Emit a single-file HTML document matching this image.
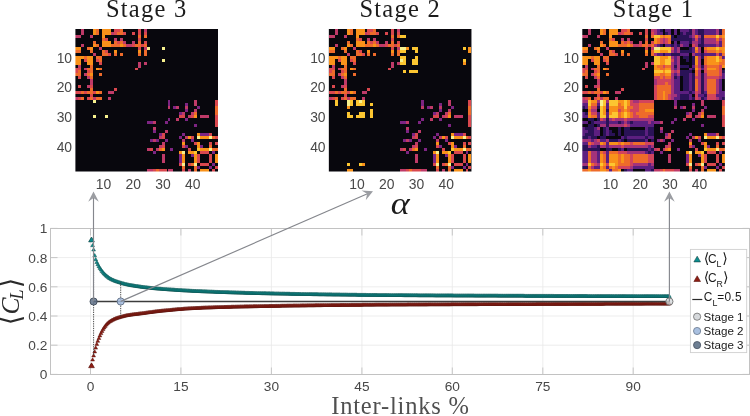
<!DOCTYPE html>
<html lang="en"><head><meta charset="utf-8"><title>Stages figure</title>
<style>
html,body{margin:0;padding:0;background:#fff;}
body{width:750px;height:416px;overflow:hidden;}
svg{display:block;}
.ser{font-family:"Liberation Serif","DejaVu Serif",serif;}
.sans{font-family:"Liberation Sans","DejaVu Sans",sans-serif;}
</style></head><body>
<svg width="750" height="416" viewBox="0 0 750 416">
<defs>
<marker id="mL" markerWidth="8" markerHeight="8" refX="4" refY="4.1" markerUnits="userSpaceOnUse" orient="0"><path d="M4 2.25 L5.9 5.5 L2.1 5.5 Z" fill="#0a8c8d" stroke="#11504f" stroke-width="0.5"/></marker>
<marker id="mR" markerWidth="8" markerHeight="8" refX="4" refY="4.1" markerUnits="userSpaceOnUse" orient="0"><path d="M4 2.25 L5.9 5.5 L2.1 5.5 Z" fill="#8e1d13" stroke="#5c1710" stroke-width="0.5"/></marker>
<filter id="bl" color-interpolation-filters="sRGB" x="-5%" y="-5%" width="110%" height="110%"><feGaussianBlur stdDeviation="0.55"/></filter>
</defs>
<rect width="750" height="416" fill="#fff"/>
<text x="146.7" y="17.2" class="ser" font-size="24.5" text-anchor="middle" letter-spacing="1.25" fill="#1c1c1c">Stage 3</text>
<text x="400.2" y="17.2" class="ser" font-size="24.5" text-anchor="middle" letter-spacing="1.25" fill="#1c1c1c">Stage 2</text>
<text x="653.6" y="17.2" class="ser" font-size="24.5" text-anchor="middle" letter-spacing="1.25" fill="#1c1c1c">Stage 1</text>
<clipPath id="hc0"><rect x="75.40" y="28.90" width="142.60" height="142.60"/></clipPath>
<g clip-path="url(#hc0)"><g filter="url(#bl)" shape-rendering="crispEdges">
<rect x="71.40" y="24.90" width="150.60" height="150.60" fill="#08070d"/>
<rect x="81.34" y="28.90" width="2.97" height="2.97" fill="#bf3a68"/>
<rect x="93.23" y="28.90" width="2.97" height="2.97" fill="#f9921a"/>
<rect x="96.20" y="28.90" width="2.97" height="2.97" fill="#ee6b2b"/>
<rect x="102.14" y="28.90" width="8.91" height="2.97" fill="#f9921a"/>
<rect x="114.02" y="28.90" width="5.94" height="2.97" fill="#d9474e"/>
<rect x="119.96" y="28.90" width="2.97" height="2.97" fill="#ee6b2b"/>
<rect x="137.79" y="28.90" width="2.97" height="2.97" fill="#d9474e"/>
<rect x="143.73" y="28.90" width="2.97" height="2.97" fill="#bf3a68"/>
<rect x="81.34" y="31.87" width="2.97" height="2.97" fill="#bf3a68"/>
<rect x="93.23" y="31.87" width="2.97" height="2.97" fill="#f9921a"/>
<rect x="96.20" y="31.87" width="2.97" height="2.97" fill="#ee6b2b"/>
<rect x="102.14" y="31.87" width="8.91" height="2.97" fill="#f9921a"/>
<rect x="111.05" y="31.87" width="2.97" height="2.97" fill="#bf3a68"/>
<rect x="114.02" y="31.87" width="2.97" height="2.97" fill="#d9474e"/>
<rect x="116.99" y="31.87" width="5.94" height="2.97" fill="#ee6b2b"/>
<rect x="122.93" y="31.87" width="2.97" height="2.97" fill="#d9474e"/>
<rect x="131.85" y="31.87" width="2.97" height="2.97" fill="#d9474e"/>
<rect x="137.79" y="31.87" width="2.97" height="2.97" fill="#d9474e"/>
<rect x="143.73" y="31.87" width="2.97" height="2.97" fill="#d9474e"/>
<rect x="75.40" y="34.84" width="5.94" height="2.97" fill="#bf3a68"/>
<rect x="90.25" y="34.84" width="2.97" height="2.97" fill="#bf3a68"/>
<rect x="102.14" y="34.84" width="2.97" height="2.97" fill="#f9921a"/>
<rect x="137.79" y="34.84" width="2.97" height="2.97" fill="#ee6b2b"/>
<rect x="143.73" y="34.84" width="2.97" height="2.97" fill="#ee6b2b"/>
<rect x="102.14" y="37.81" width="2.97" height="2.97" fill="#ee6b2b"/>
<rect x="105.11" y="37.81" width="2.97" height="2.97" fill="#d9474e"/>
<rect x="114.02" y="37.81" width="2.97" height="2.97" fill="#bf3a68"/>
<rect x="119.96" y="37.81" width="2.97" height="2.97" fill="#bf3a68"/>
<rect x="137.79" y="37.81" width="2.97" height="2.97" fill="#d9474e"/>
<rect x="93.23" y="40.78" width="2.97" height="2.97" fill="#ee6b2b"/>
<rect x="102.14" y="40.78" width="8.91" height="2.97" fill="#f9921a"/>
<rect x="114.02" y="40.78" width="2.97" height="2.97" fill="#ee6b2b"/>
<rect x="116.99" y="40.78" width="2.97" height="2.97" fill="#d9474e"/>
<rect x="119.96" y="40.78" width="2.97" height="2.97" fill="#ee6b2b"/>
<rect x="122.93" y="40.78" width="2.97" height="2.97" fill="#bf3a68"/>
<rect x="131.85" y="40.78" width="2.97" height="2.97" fill="#bf3a68"/>
<rect x="137.79" y="40.78" width="2.97" height="2.97" fill="#ee6b2b"/>
<rect x="143.73" y="40.78" width="2.97" height="2.97" fill="#d9474e"/>
<rect x="81.34" y="43.75" width="2.97" height="2.97" fill="#bf3a68"/>
<rect x="93.23" y="43.75" width="2.97" height="2.97" fill="#f9921a"/>
<rect x="96.20" y="43.75" width="2.97" height="2.97" fill="#ee6b2b"/>
<rect x="102.14" y="43.75" width="8.91" height="2.97" fill="#f9921a"/>
<rect x="111.05" y="43.75" width="8.91" height="2.97" fill="#ee6b2b"/>
<rect x="119.96" y="43.75" width="2.97" height="2.97" fill="#f9921a"/>
<rect x="122.93" y="43.75" width="2.97" height="2.97" fill="#ee6b2b"/>
<rect x="125.90" y="43.75" width="5.94" height="2.97" fill="#bf3a68"/>
<rect x="131.85" y="43.75" width="2.97" height="2.97" fill="#d9474e"/>
<rect x="134.82" y="43.75" width="5.94" height="2.97" fill="#ee6b2b"/>
<rect x="140.76" y="43.75" width="2.97" height="2.97" fill="#d9474e"/>
<rect x="143.73" y="43.75" width="2.97" height="2.97" fill="#ee6b2b"/>
<rect x="75.40" y="46.72" width="5.94" height="2.97" fill="#f9921a"/>
<rect x="87.28" y="46.72" width="2.97" height="2.97" fill="#ee6b2b"/>
<rect x="90.25" y="46.72" width="2.97" height="2.97" fill="#f9921a"/>
<rect x="99.17" y="46.72" width="2.97" height="2.97" fill="#bf3a68"/>
<rect x="137.79" y="46.72" width="2.97" height="2.97" fill="#d9474e"/>
<rect x="143.73" y="46.72" width="2.97" height="2.97" fill="#bf3a68"/>
<rect x="146.70" y="46.72" width="2.97" height="2.97" fill="#f7f08e"/>
<rect x="161.55" y="46.72" width="2.97" height="2.97" fill="#f7f08e"/>
<rect x="75.40" y="49.70" width="5.94" height="2.97" fill="#ee6b2b"/>
<rect x="90.25" y="49.70" width="2.97" height="2.97" fill="#ee6b2b"/>
<rect x="102.14" y="49.70" width="2.97" height="2.97" fill="#ee6b2b"/>
<rect x="105.11" y="49.70" width="2.97" height="2.97" fill="#d9474e"/>
<rect x="114.02" y="49.70" width="2.97" height="2.97" fill="#f9921a"/>
<rect x="137.79" y="49.70" width="2.97" height="2.97" fill="#f9921a"/>
<rect x="143.73" y="49.70" width="2.97" height="2.97" fill="#ee6b2b"/>
<rect x="93.23" y="52.67" width="2.97" height="2.97" fill="#bf3a68"/>
<rect x="102.14" y="52.67" width="5.94" height="2.97" fill="#ee6b2b"/>
<rect x="108.08" y="52.67" width="2.97" height="2.97" fill="#d9474e"/>
<rect x="114.02" y="52.67" width="2.97" height="2.97" fill="#ee6b2b"/>
<rect x="119.96" y="52.67" width="2.97" height="2.97" fill="#ee6b2b"/>
<rect x="137.79" y="52.67" width="2.97" height="2.97" fill="#ee6b2b"/>
<rect x="143.73" y="52.67" width="2.97" height="2.97" fill="#ee6b2b"/>
<rect x="75.40" y="55.64" width="8.91" height="2.97" fill="#f9921a"/>
<rect x="84.31" y="55.64" width="2.97" height="2.97" fill="#ee6b2b"/>
<rect x="87.28" y="55.64" width="5.94" height="2.97" fill="#f9921a"/>
<rect x="96.20" y="55.64" width="5.94" height="2.97" fill="#ee6b2b"/>
<rect x="75.40" y="58.61" width="5.94" height="2.97" fill="#f9921a"/>
<rect x="84.31" y="58.61" width="2.97" height="2.97" fill="#d9474e"/>
<rect x="87.28" y="58.61" width="5.94" height="2.97" fill="#f9921a"/>
<rect x="96.20" y="58.61" width="2.97" height="2.97" fill="#d9474e"/>
<rect x="99.17" y="58.61" width="2.97" height="2.97" fill="#ee6b2b"/>
<rect x="161.55" y="58.61" width="2.97" height="2.97" fill="#f7f08e"/>
<rect x="75.40" y="61.58" width="5.94" height="2.97" fill="#f9921a"/>
<rect x="87.28" y="61.58" width="5.94" height="2.97" fill="#f9921a"/>
<rect x="99.17" y="61.58" width="2.97" height="2.97" fill="#d9474e"/>
<rect x="137.79" y="61.58" width="2.97" height="2.97" fill="#bf3a68"/>
<rect x="143.73" y="61.58" width="2.97" height="2.97" fill="#bf3a68"/>
<rect x="78.37" y="64.55" width="2.97" height="2.97" fill="#bf3a68"/>
<rect x="90.25" y="64.55" width="2.97" height="2.97" fill="#ee6b2b"/>
<rect x="137.79" y="64.55" width="2.97" height="2.97" fill="#bf3a68"/>
<rect x="75.40" y="67.52" width="5.94" height="2.97" fill="#d9474e"/>
<rect x="84.31" y="67.52" width="2.97" height="2.97" fill="#bf3a68"/>
<rect x="87.28" y="67.52" width="5.94" height="2.97" fill="#ee6b2b"/>
<rect x="96.20" y="67.52" width="2.97" height="2.97" fill="#f9921a"/>
<rect x="99.17" y="67.52" width="2.97" height="2.97" fill="#ee6b2b"/>
<rect x="134.82" y="67.52" width="2.97" height="2.97" fill="#d9474e"/>
<rect x="75.40" y="70.49" width="2.97" height="2.97" fill="#d9474e"/>
<rect x="78.37" y="70.49" width="2.97" height="2.97" fill="#ee6b2b"/>
<rect x="87.28" y="70.49" width="2.97" height="2.97" fill="#d9474e"/>
<rect x="90.25" y="70.49" width="2.97" height="2.97" fill="#ee6b2b"/>
<rect x="75.40" y="73.46" width="5.94" height="2.97" fill="#ee6b2b"/>
<rect x="84.31" y="73.46" width="2.97" height="2.97" fill="#bf3a68"/>
<rect x="87.28" y="73.46" width="2.97" height="2.97" fill="#ee6b2b"/>
<rect x="90.25" y="73.46" width="2.97" height="2.97" fill="#f9921a"/>
<rect x="99.17" y="73.46" width="2.97" height="2.97" fill="#ee6b2b"/>
<rect x="78.37" y="76.43" width="2.97" height="2.97" fill="#d9474e"/>
<rect x="87.28" y="76.43" width="2.97" height="2.97" fill="#bf3a68"/>
<rect x="90.25" y="76.43" width="2.97" height="2.97" fill="#ee6b2b"/>
<rect x="90.25" y="79.40" width="2.97" height="2.97" fill="#bf3a68"/>
<rect x="90.25" y="82.38" width="2.97" height="2.97" fill="#bf3a68"/>
<rect x="78.37" y="85.35" width="2.97" height="2.97" fill="#d9474e"/>
<rect x="87.28" y="85.35" width="2.97" height="2.97" fill="#bf3a68"/>
<rect x="90.25" y="85.35" width="2.97" height="2.97" fill="#d9474e"/>
<rect x="90.25" y="88.32" width="2.97" height="2.97" fill="#ee6b2b"/>
<rect x="114.02" y="88.32" width="2.97" height="2.97" fill="#d9474e"/>
<rect x="75.40" y="91.29" width="5.94" height="2.97" fill="#d9474e"/>
<rect x="81.34" y="91.29" width="2.97" height="2.97" fill="#ee6b2b"/>
<rect x="84.31" y="91.29" width="2.97" height="2.97" fill="#d9474e"/>
<rect x="87.28" y="91.29" width="5.94" height="2.97" fill="#ee6b2b"/>
<rect x="93.23" y="91.29" width="2.97" height="2.97" fill="#d9474e"/>
<rect x="96.20" y="91.29" width="2.97" height="2.97" fill="#f9921a"/>
<rect x="99.17" y="91.29" width="2.97" height="2.97" fill="#ee6b2b"/>
<rect x="108.08" y="91.29" width="5.94" height="2.97" fill="#bf3a68"/>
<rect x="90.25" y="94.26" width="2.97" height="2.97" fill="#d9474e"/>
<rect x="75.40" y="97.23" width="2.97" height="2.97" fill="#bf3a68"/>
<rect x="78.37" y="97.23" width="2.97" height="2.97" fill="#d9474e"/>
<rect x="81.34" y="97.23" width="2.97" height="2.97" fill="#ee6b2b"/>
<rect x="87.28" y="97.23" width="2.97" height="2.97" fill="#d9474e"/>
<rect x="90.25" y="97.23" width="2.97" height="2.97" fill="#ee6b2b"/>
<rect x="93.23" y="97.23" width="2.97" height="2.97" fill="#bf3a68"/>
<rect x="96.20" y="97.23" width="5.94" height="2.97" fill="#ee6b2b"/>
<rect x="108.08" y="97.23" width="2.97" height="2.97" fill="#bf3a68"/>
<rect x="93.23" y="100.20" width="2.97" height="2.97" fill="#f7f08e"/>
<rect x="167.50" y="100.20" width="2.97" height="2.97" fill="#7d2482"/>
<rect x="194.23" y="100.20" width="2.97" height="2.97" fill="#bf3a68"/>
<rect x="215.03" y="100.20" width="2.97" height="2.97" fill="#d9474e"/>
<rect x="167.50" y="103.17" width="2.97" height="2.97" fill="#7d2482"/>
<rect x="185.32" y="103.17" width="2.97" height="2.97" fill="#7d2482"/>
<rect x="194.23" y="103.17" width="2.97" height="2.97" fill="#bf3a68"/>
<rect x="215.03" y="103.17" width="2.97" height="2.97" fill="#d9474e"/>
<rect x="167.50" y="106.14" width="2.97" height="2.97" fill="#bf3a68"/>
<rect x="173.44" y="106.14" width="2.97" height="2.97" fill="#7d2482"/>
<rect x="176.41" y="106.14" width="2.97" height="2.97" fill="#bf3a68"/>
<rect x="185.32" y="106.14" width="2.97" height="2.97" fill="#bf3a68"/>
<rect x="197.20" y="106.14" width="2.97" height="2.97" fill="#7d2482"/>
<rect x="215.03" y="106.14" width="2.97" height="2.97" fill="#ee6b2b"/>
<rect x="185.32" y="109.11" width="2.97" height="2.97" fill="#7d2482"/>
<rect x="194.23" y="109.11" width="2.97" height="2.97" fill="#bf3a68"/>
<rect x="215.03" y="109.11" width="2.97" height="2.97" fill="#ee6b2b"/>
<rect x="179.38" y="112.08" width="2.97" height="2.97" fill="#7d2482"/>
<rect x="182.35" y="112.08" width="2.97" height="2.97" fill="#bf3a68"/>
<rect x="191.26" y="112.08" width="2.97" height="2.97" fill="#bf3a68"/>
<rect x="194.23" y="112.08" width="2.97" height="2.97" fill="#ee6b2b"/>
<rect x="215.03" y="112.08" width="2.97" height="2.97" fill="#ee6b2b"/>
<rect x="93.23" y="115.05" width="2.97" height="2.97" fill="#f7f08e"/>
<rect x="105.11" y="115.05" width="2.97" height="2.97" fill="#f7f08e"/>
<rect x="179.38" y="115.05" width="5.94" height="2.97" fill="#d9474e"/>
<rect x="188.29" y="115.05" width="2.97" height="2.97" fill="#bf3a68"/>
<rect x="191.26" y="115.05" width="2.97" height="2.97" fill="#d9474e"/>
<rect x="194.23" y="115.05" width="2.97" height="2.97" fill="#f9921a"/>
<rect x="200.18" y="115.05" width="8.91" height="2.97" fill="#bf3a68"/>
<rect x="215.03" y="115.05" width="2.97" height="2.97" fill="#d9474e"/>
<rect x="167.50" y="118.03" width="2.97" height="2.97" fill="#7d2482"/>
<rect x="176.41" y="118.03" width="2.97" height="2.97" fill="#bf3a68"/>
<rect x="185.32" y="118.03" width="2.97" height="2.97" fill="#7d2482"/>
<rect x="215.03" y="118.03" width="2.97" height="2.97" fill="#d9474e"/>
<rect x="146.70" y="121.00" width="5.94" height="2.97" fill="#7d2482"/>
<rect x="152.64" y="121.00" width="2.97" height="2.97" fill="#bf3a68"/>
<rect x="164.53" y="121.00" width="2.97" height="2.97" fill="#7d2482"/>
<rect x="215.03" y="121.00" width="2.97" height="2.97" fill="#d9474e"/>
<rect x="194.23" y="123.97" width="2.97" height="2.97" fill="#7d2482"/>
<rect x="215.03" y="123.97" width="2.97" height="2.97" fill="#d9474e"/>
<rect x="152.64" y="126.94" width="2.97" height="2.97" fill="#bf3a68"/>
<rect x="152.64" y="129.91" width="2.97" height="2.97" fill="#7d2482"/>
<rect x="164.53" y="129.91" width="2.97" height="2.97" fill="#bf3a68"/>
<rect x="158.58" y="132.88" width="2.97" height="2.97" fill="#7d2482"/>
<rect x="161.55" y="132.88" width="2.97" height="2.97" fill="#d9474e"/>
<rect x="182.35" y="132.88" width="2.97" height="2.97" fill="#7d2482"/>
<rect x="197.20" y="132.88" width="2.97" height="2.97" fill="#f9921a"/>
<rect x="200.18" y="132.88" width="8.91" height="2.97" fill="#7d2482"/>
<rect x="209.09" y="132.88" width="2.97" height="2.97" fill="#d9474e"/>
<rect x="158.58" y="135.85" width="2.97" height="2.97" fill="#bf3a68"/>
<rect x="161.55" y="135.85" width="2.97" height="2.97" fill="#d9474e"/>
<rect x="179.38" y="135.85" width="2.97" height="2.97" fill="#7d2482"/>
<rect x="185.32" y="135.85" width="2.97" height="2.97" fill="#bf3a68"/>
<rect x="188.29" y="135.85" width="2.97" height="2.97" fill="#f9921a"/>
<rect x="191.26" y="135.85" width="2.97" height="2.97" fill="#d9474e"/>
<rect x="197.20" y="135.85" width="2.97" height="2.97" fill="#f7f08e"/>
<rect x="200.18" y="135.85" width="8.91" height="2.97" fill="#f9921a"/>
<rect x="209.09" y="135.85" width="2.97" height="2.97" fill="#f7f08e"/>
<rect x="212.06" y="135.85" width="2.97" height="2.97" fill="#ee6b2b"/>
<rect x="215.03" y="135.85" width="2.97" height="2.97" fill="#d9474e"/>
<rect x="149.67" y="138.82" width="2.97" height="2.97" fill="#7d2482"/>
<rect x="152.64" y="138.82" width="2.97" height="2.97" fill="#bf3a68"/>
<rect x="155.61" y="138.82" width="2.97" height="2.97" fill="#7d2482"/>
<rect x="164.53" y="138.82" width="2.97" height="2.97" fill="#7d2482"/>
<rect x="182.35" y="138.82" width="2.97" height="2.97" fill="#bf3a68"/>
<rect x="191.26" y="138.82" width="2.97" height="2.97" fill="#7d2482"/>
<rect x="161.55" y="141.79" width="2.97" height="2.97" fill="#bf3a68"/>
<rect x="182.35" y="141.79" width="2.97" height="2.97" fill="#f9921a"/>
<rect x="194.23" y="141.79" width="2.97" height="2.97" fill="#d9474e"/>
<rect x="197.20" y="141.79" width="2.97" height="2.97" fill="#f9921a"/>
<rect x="209.09" y="141.79" width="2.97" height="2.97" fill="#d9474e"/>
<rect x="215.03" y="141.79" width="2.97" height="2.97" fill="#d9474e"/>
<rect x="158.58" y="144.76" width="2.97" height="2.97" fill="#bf3a68"/>
<rect x="161.55" y="144.76" width="2.97" height="2.97" fill="#d9474e"/>
<rect x="182.35" y="144.76" width="2.97" height="2.97" fill="#d9474e"/>
<rect x="185.32" y="144.76" width="2.97" height="2.97" fill="#7d2482"/>
<rect x="197.20" y="144.76" width="2.97" height="2.97" fill="#f9921a"/>
<rect x="200.18" y="144.76" width="2.97" height="2.97" fill="#7d2482"/>
<rect x="209.09" y="144.76" width="2.97" height="2.97" fill="#ee6b2b"/>
<rect x="146.70" y="147.73" width="2.97" height="2.97" fill="#bf3a68"/>
<rect x="149.67" y="147.73" width="2.97" height="2.97" fill="#d9474e"/>
<rect x="155.61" y="147.73" width="2.97" height="2.97" fill="#bf3a68"/>
<rect x="158.58" y="147.73" width="2.97" height="2.97" fill="#ee6b2b"/>
<rect x="161.55" y="147.73" width="2.97" height="2.97" fill="#f9921a"/>
<rect x="170.47" y="147.73" width="2.97" height="2.97" fill="#7d2482"/>
<rect x="188.29" y="147.73" width="2.97" height="2.97" fill="#d9474e"/>
<rect x="197.20" y="147.73" width="2.97" height="2.97" fill="#fcc631"/>
<rect x="200.18" y="147.73" width="8.91" height="2.97" fill="#f9921a"/>
<rect x="209.09" y="147.73" width="2.97" height="2.97" fill="#f7f08e"/>
<rect x="212.06" y="147.73" width="5.94" height="2.97" fill="#ee6b2b"/>
<rect x="152.64" y="150.70" width="2.97" height="2.97" fill="#7d2482"/>
<rect x="179.38" y="150.70" width="2.97" height="2.97" fill="#f9921a"/>
<rect x="182.35" y="150.70" width="2.97" height="2.97" fill="#f7f08e"/>
<rect x="188.29" y="150.70" width="5.94" height="2.97" fill="#f9921a"/>
<rect x="194.23" y="150.70" width="2.97" height="2.97" fill="#fcc631"/>
<rect x="200.18" y="150.70" width="8.91" height="2.97" fill="#d9474e"/>
<rect x="212.06" y="150.70" width="2.97" height="2.97" fill="#7d2482"/>
<rect x="161.55" y="153.67" width="2.97" height="2.97" fill="#bf3a68"/>
<rect x="179.38" y="153.67" width="2.97" height="2.97" fill="#7d2482"/>
<rect x="182.35" y="153.67" width="2.97" height="2.97" fill="#f9921a"/>
<rect x="191.26" y="153.67" width="2.97" height="2.97" fill="#7d2482"/>
<rect x="194.23" y="153.67" width="2.97" height="2.97" fill="#f9921a"/>
<rect x="197.20" y="153.67" width="2.97" height="2.97" fill="#d9474e"/>
<rect x="209.09" y="153.67" width="2.97" height="2.97" fill="#d9474e"/>
<rect x="215.03" y="153.67" width="2.97" height="2.97" fill="#f9921a"/>
<rect x="161.55" y="156.65" width="2.97" height="2.97" fill="#bf3a68"/>
<rect x="179.38" y="156.65" width="2.97" height="2.97" fill="#7d2482"/>
<rect x="182.35" y="156.65" width="2.97" height="2.97" fill="#f9921a"/>
<rect x="194.23" y="156.65" width="2.97" height="2.97" fill="#f9921a"/>
<rect x="197.20" y="156.65" width="2.97" height="2.97" fill="#d9474e"/>
<rect x="209.09" y="156.65" width="2.97" height="2.97" fill="#d9474e"/>
<rect x="215.03" y="156.65" width="2.97" height="2.97" fill="#f9921a"/>
<rect x="161.55" y="159.62" width="2.97" height="2.97" fill="#bf3a68"/>
<rect x="179.38" y="159.62" width="2.97" height="2.97" fill="#7d2482"/>
<rect x="182.35" y="159.62" width="2.97" height="2.97" fill="#f9921a"/>
<rect x="194.23" y="159.62" width="2.97" height="2.97" fill="#f9921a"/>
<rect x="197.20" y="159.62" width="2.97" height="2.97" fill="#d9474e"/>
<rect x="209.09" y="159.62" width="2.97" height="2.97" fill="#d9474e"/>
<rect x="215.03" y="159.62" width="2.97" height="2.97" fill="#f9921a"/>
<rect x="179.38" y="162.59" width="2.97" height="2.97" fill="#d9474e"/>
<rect x="182.35" y="162.59" width="2.97" height="2.97" fill="#f7f08e"/>
<rect x="188.29" y="162.59" width="2.97" height="2.97" fill="#d9474e"/>
<rect x="191.26" y="162.59" width="2.97" height="2.97" fill="#ee6b2b"/>
<rect x="194.23" y="162.59" width="2.97" height="2.97" fill="#f7f08e"/>
<rect x="200.18" y="162.59" width="8.91" height="2.97" fill="#d9474e"/>
<rect x="212.06" y="162.59" width="2.97" height="2.97" fill="#7d2482"/>
<rect x="182.35" y="165.56" width="2.97" height="2.97" fill="#ee6b2b"/>
<rect x="194.23" y="165.56" width="2.97" height="2.97" fill="#ee6b2b"/>
<rect x="197.20" y="165.56" width="2.97" height="2.97" fill="#7d2482"/>
<rect x="209.09" y="165.56" width="2.97" height="2.97" fill="#7d2482"/>
<rect x="215.03" y="165.56" width="2.97" height="2.97" fill="#d9474e"/>
<rect x="146.70" y="168.53" width="5.94" height="2.97" fill="#bf3a68"/>
<rect x="152.64" y="168.53" width="2.97" height="2.97" fill="#d9474e"/>
<rect x="155.61" y="168.53" width="2.97" height="2.97" fill="#ee6b2b"/>
<rect x="158.58" y="168.53" width="8.91" height="2.97" fill="#d9474e"/>
<rect x="167.50" y="168.53" width="5.94" height="2.97" fill="#bf3a68"/>
<rect x="182.35" y="168.53" width="2.97" height="2.97" fill="#d9474e"/>
<rect x="188.29" y="168.53" width="2.97" height="2.97" fill="#bf3a68"/>
<rect x="194.23" y="168.53" width="2.97" height="2.97" fill="#ee6b2b"/>
<rect x="200.18" y="168.53" width="8.91" height="2.97" fill="#f9921a"/>
<rect x="212.06" y="168.53" width="2.97" height="2.97" fill="#d9474e"/>
</g></g>
<text x="103.6" y="189.0" class="sans" font-size="13.9" text-anchor="middle" fill="#484848">10</text>
<text x="72.1" y="62.7" class="sans" font-size="13.9" text-anchor="end" fill="#484848">10</text>
<text x="133.3" y="189.0" class="sans" font-size="13.9" text-anchor="middle" fill="#484848">20</text>
<text x="72.1" y="92.4" class="sans" font-size="13.9" text-anchor="end" fill="#484848">20</text>
<text x="163.0" y="189.0" class="sans" font-size="13.9" text-anchor="middle" fill="#484848">30</text>
<text x="72.1" y="122.1" class="sans" font-size="13.9" text-anchor="end" fill="#484848">30</text>
<text x="192.7" y="189.0" class="sans" font-size="13.9" text-anchor="middle" fill="#484848">40</text>
<text x="72.1" y="151.8" class="sans" font-size="13.9" text-anchor="end" fill="#484848">40</text>
<clipPath id="hc1"><rect x="328.85" y="28.90" width="142.60" height="142.60"/></clipPath>
<g clip-path="url(#hc1)"><g filter="url(#bl)" shape-rendering="crispEdges">
<rect x="324.85" y="24.90" width="150.60" height="150.60" fill="#08070d"/>
<rect x="334.79" y="28.90" width="2.97" height="2.97" fill="#bf3a68"/>
<rect x="346.68" y="28.90" width="2.97" height="2.97" fill="#f9921a"/>
<rect x="349.65" y="28.90" width="2.97" height="2.97" fill="#ee6b2b"/>
<rect x="355.59" y="28.90" width="8.91" height="2.97" fill="#f9921a"/>
<rect x="367.47" y="28.90" width="5.94" height="2.97" fill="#d9474e"/>
<rect x="373.41" y="28.90" width="2.97" height="2.97" fill="#ee6b2b"/>
<rect x="391.24" y="28.90" width="2.97" height="2.97" fill="#d9474e"/>
<rect x="397.18" y="28.90" width="2.97" height="2.97" fill="#bf3a68"/>
<rect x="334.79" y="31.87" width="2.97" height="2.97" fill="#bf3a68"/>
<rect x="346.68" y="31.87" width="2.97" height="2.97" fill="#f9921a"/>
<rect x="349.65" y="31.87" width="2.97" height="2.97" fill="#ee6b2b"/>
<rect x="355.59" y="31.87" width="8.91" height="2.97" fill="#f9921a"/>
<rect x="364.50" y="31.87" width="2.97" height="2.97" fill="#bf3a68"/>
<rect x="367.47" y="31.87" width="2.97" height="2.97" fill="#d9474e"/>
<rect x="370.44" y="31.87" width="5.94" height="2.97" fill="#ee6b2b"/>
<rect x="376.38" y="31.87" width="2.97" height="2.97" fill="#d9474e"/>
<rect x="385.30" y="31.87" width="2.97" height="2.97" fill="#d9474e"/>
<rect x="391.24" y="31.87" width="2.97" height="2.97" fill="#d9474e"/>
<rect x="397.18" y="31.87" width="2.97" height="2.97" fill="#d9474e"/>
<rect x="328.85" y="34.84" width="5.94" height="2.97" fill="#bf3a68"/>
<rect x="343.70" y="34.84" width="2.97" height="2.97" fill="#bf3a68"/>
<rect x="355.59" y="34.84" width="2.97" height="2.97" fill="#f9921a"/>
<rect x="391.24" y="34.84" width="2.97" height="2.97" fill="#ee6b2b"/>
<rect x="397.18" y="34.84" width="2.97" height="2.97" fill="#ee6b2b"/>
<rect x="400.15" y="34.84" width="5.94" height="2.97" fill="#fcc631"/>
<rect x="355.59" y="37.81" width="2.97" height="2.97" fill="#ee6b2b"/>
<rect x="358.56" y="37.81" width="2.97" height="2.97" fill="#d9474e"/>
<rect x="367.47" y="37.81" width="2.97" height="2.97" fill="#bf3a68"/>
<rect x="373.41" y="37.81" width="2.97" height="2.97" fill="#bf3a68"/>
<rect x="391.24" y="37.81" width="2.97" height="2.97" fill="#d9474e"/>
<rect x="346.68" y="40.78" width="2.97" height="2.97" fill="#ee6b2b"/>
<rect x="355.59" y="40.78" width="8.91" height="2.97" fill="#f9921a"/>
<rect x="367.47" y="40.78" width="2.97" height="2.97" fill="#ee6b2b"/>
<rect x="370.44" y="40.78" width="2.97" height="2.97" fill="#d9474e"/>
<rect x="373.41" y="40.78" width="2.97" height="2.97" fill="#ee6b2b"/>
<rect x="376.38" y="40.78" width="2.97" height="2.97" fill="#bf3a68"/>
<rect x="385.30" y="40.78" width="2.97" height="2.97" fill="#bf3a68"/>
<rect x="391.24" y="40.78" width="2.97" height="2.97" fill="#ee6b2b"/>
<rect x="397.18" y="40.78" width="2.97" height="2.97" fill="#d9474e"/>
<rect x="334.79" y="43.75" width="2.97" height="2.97" fill="#bf3a68"/>
<rect x="346.68" y="43.75" width="2.97" height="2.97" fill="#f9921a"/>
<rect x="349.65" y="43.75" width="2.97" height="2.97" fill="#ee6b2b"/>
<rect x="355.59" y="43.75" width="8.91" height="2.97" fill="#f9921a"/>
<rect x="364.50" y="43.75" width="8.91" height="2.97" fill="#ee6b2b"/>
<rect x="373.41" y="43.75" width="2.97" height="2.97" fill="#f9921a"/>
<rect x="376.38" y="43.75" width="2.97" height="2.97" fill="#ee6b2b"/>
<rect x="379.35" y="43.75" width="5.94" height="2.97" fill="#bf3a68"/>
<rect x="385.30" y="43.75" width="2.97" height="2.97" fill="#d9474e"/>
<rect x="388.27" y="43.75" width="5.94" height="2.97" fill="#ee6b2b"/>
<rect x="394.21" y="43.75" width="2.97" height="2.97" fill="#d9474e"/>
<rect x="397.18" y="43.75" width="2.97" height="2.97" fill="#ee6b2b"/>
<rect x="328.85" y="46.72" width="5.94" height="2.97" fill="#f9921a"/>
<rect x="340.73" y="46.72" width="2.97" height="2.97" fill="#ee6b2b"/>
<rect x="343.70" y="46.72" width="2.97" height="2.97" fill="#f9921a"/>
<rect x="352.62" y="46.72" width="2.97" height="2.97" fill="#bf3a68"/>
<rect x="391.24" y="46.72" width="2.97" height="2.97" fill="#d9474e"/>
<rect x="397.18" y="46.72" width="2.97" height="2.97" fill="#bf3a68"/>
<rect x="400.15" y="46.72" width="5.94" height="2.97" fill="#f7f08e"/>
<rect x="406.09" y="46.72" width="2.97" height="2.97" fill="#f9921a"/>
<rect x="412.03" y="46.72" width="5.94" height="2.97" fill="#fcc631"/>
<rect x="462.54" y="46.72" width="2.97" height="2.97" fill="#fcc631"/>
<rect x="468.48" y="46.72" width="2.97" height="2.97" fill="#f9921a"/>
<rect x="328.85" y="49.70" width="5.94" height="2.97" fill="#ee6b2b"/>
<rect x="343.70" y="49.70" width="2.97" height="2.97" fill="#ee6b2b"/>
<rect x="355.59" y="49.70" width="2.97" height="2.97" fill="#ee6b2b"/>
<rect x="358.56" y="49.70" width="2.97" height="2.97" fill="#d9474e"/>
<rect x="367.47" y="49.70" width="2.97" height="2.97" fill="#f9921a"/>
<rect x="391.24" y="49.70" width="2.97" height="2.97" fill="#f9921a"/>
<rect x="397.18" y="49.70" width="2.97" height="2.97" fill="#ee6b2b"/>
<rect x="400.15" y="49.70" width="5.94" height="2.97" fill="#fcc631"/>
<rect x="415.00" y="49.70" width="2.97" height="2.97" fill="#fcc631"/>
<rect x="468.48" y="49.70" width="2.97" height="2.97" fill="#f9921a"/>
<rect x="346.68" y="52.67" width="2.97" height="2.97" fill="#bf3a68"/>
<rect x="355.59" y="52.67" width="5.94" height="2.97" fill="#ee6b2b"/>
<rect x="361.53" y="52.67" width="2.97" height="2.97" fill="#d9474e"/>
<rect x="367.47" y="52.67" width="2.97" height="2.97" fill="#ee6b2b"/>
<rect x="373.41" y="52.67" width="2.97" height="2.97" fill="#ee6b2b"/>
<rect x="391.24" y="52.67" width="2.97" height="2.97" fill="#ee6b2b"/>
<rect x="397.18" y="52.67" width="2.97" height="2.97" fill="#ee6b2b"/>
<rect x="328.85" y="55.64" width="8.91" height="2.97" fill="#f9921a"/>
<rect x="337.76" y="55.64" width="2.97" height="2.97" fill="#ee6b2b"/>
<rect x="340.73" y="55.64" width="5.94" height="2.97" fill="#f9921a"/>
<rect x="349.65" y="55.64" width="5.94" height="2.97" fill="#ee6b2b"/>
<rect x="400.15" y="55.64" width="5.94" height="2.97" fill="#fcc631"/>
<rect x="415.00" y="55.64" width="2.97" height="2.97" fill="#fcc631"/>
<rect x="328.85" y="58.61" width="5.94" height="2.97" fill="#f9921a"/>
<rect x="337.76" y="58.61" width="2.97" height="2.97" fill="#d9474e"/>
<rect x="340.73" y="58.61" width="5.94" height="2.97" fill="#f9921a"/>
<rect x="349.65" y="58.61" width="2.97" height="2.97" fill="#d9474e"/>
<rect x="352.62" y="58.61" width="2.97" height="2.97" fill="#ee6b2b"/>
<rect x="400.15" y="58.61" width="2.97" height="2.97" fill="#f7f08e"/>
<rect x="403.12" y="58.61" width="2.97" height="2.97" fill="#fcc631"/>
<rect x="412.03" y="58.61" width="5.94" height="2.97" fill="#fcc631"/>
<rect x="462.54" y="58.61" width="2.97" height="2.97" fill="#fcc631"/>
<rect x="328.85" y="61.58" width="5.94" height="2.97" fill="#f9921a"/>
<rect x="340.73" y="61.58" width="5.94" height="2.97" fill="#f9921a"/>
<rect x="352.62" y="61.58" width="2.97" height="2.97" fill="#d9474e"/>
<rect x="391.24" y="61.58" width="2.97" height="2.97" fill="#bf3a68"/>
<rect x="397.18" y="61.58" width="2.97" height="2.97" fill="#bf3a68"/>
<rect x="400.15" y="61.58" width="5.94" height="2.97" fill="#fcc631"/>
<rect x="412.03" y="61.58" width="5.94" height="2.97" fill="#fcc631"/>
<rect x="462.54" y="61.58" width="2.97" height="2.97" fill="#f9921a"/>
<rect x="331.82" y="64.55" width="2.97" height="2.97" fill="#bf3a68"/>
<rect x="343.70" y="64.55" width="2.97" height="2.97" fill="#ee6b2b"/>
<rect x="391.24" y="64.55" width="2.97" height="2.97" fill="#bf3a68"/>
<rect x="328.85" y="67.52" width="5.94" height="2.97" fill="#d9474e"/>
<rect x="337.76" y="67.52" width="2.97" height="2.97" fill="#bf3a68"/>
<rect x="340.73" y="67.52" width="5.94" height="2.97" fill="#ee6b2b"/>
<rect x="349.65" y="67.52" width="2.97" height="2.97" fill="#f9921a"/>
<rect x="352.62" y="67.52" width="2.97" height="2.97" fill="#ee6b2b"/>
<rect x="388.27" y="67.52" width="2.97" height="2.97" fill="#d9474e"/>
<rect x="328.85" y="70.49" width="2.97" height="2.97" fill="#d9474e"/>
<rect x="331.82" y="70.49" width="2.97" height="2.97" fill="#ee6b2b"/>
<rect x="340.73" y="70.49" width="2.97" height="2.97" fill="#d9474e"/>
<rect x="343.70" y="70.49" width="2.97" height="2.97" fill="#ee6b2b"/>
<rect x="403.12" y="70.49" width="2.97" height="2.97" fill="#fcc631"/>
<rect x="409.06" y="70.49" width="8.91" height="2.97" fill="#fcc631"/>
<rect x="328.85" y="73.46" width="5.94" height="2.97" fill="#ee6b2b"/>
<rect x="337.76" y="73.46" width="2.97" height="2.97" fill="#bf3a68"/>
<rect x="340.73" y="73.46" width="2.97" height="2.97" fill="#ee6b2b"/>
<rect x="343.70" y="73.46" width="2.97" height="2.97" fill="#f9921a"/>
<rect x="352.62" y="73.46" width="2.97" height="2.97" fill="#ee6b2b"/>
<rect x="331.82" y="76.43" width="2.97" height="2.97" fill="#d9474e"/>
<rect x="340.73" y="76.43" width="2.97" height="2.97" fill="#bf3a68"/>
<rect x="343.70" y="76.43" width="2.97" height="2.97" fill="#ee6b2b"/>
<rect x="343.70" y="79.40" width="2.97" height="2.97" fill="#bf3a68"/>
<rect x="343.70" y="82.38" width="2.97" height="2.97" fill="#bf3a68"/>
<rect x="331.82" y="85.35" width="2.97" height="2.97" fill="#d9474e"/>
<rect x="340.73" y="85.35" width="2.97" height="2.97" fill="#bf3a68"/>
<rect x="343.70" y="85.35" width="2.97" height="2.97" fill="#d9474e"/>
<rect x="343.70" y="88.32" width="2.97" height="2.97" fill="#ee6b2b"/>
<rect x="367.47" y="88.32" width="2.97" height="2.97" fill="#d9474e"/>
<rect x="328.85" y="91.29" width="5.94" height="2.97" fill="#d9474e"/>
<rect x="334.79" y="91.29" width="2.97" height="2.97" fill="#ee6b2b"/>
<rect x="337.76" y="91.29" width="2.97" height="2.97" fill="#d9474e"/>
<rect x="340.73" y="91.29" width="5.94" height="2.97" fill="#ee6b2b"/>
<rect x="346.68" y="91.29" width="2.97" height="2.97" fill="#d9474e"/>
<rect x="349.65" y="91.29" width="2.97" height="2.97" fill="#f9921a"/>
<rect x="352.62" y="91.29" width="2.97" height="2.97" fill="#ee6b2b"/>
<rect x="361.53" y="91.29" width="5.94" height="2.97" fill="#bf3a68"/>
<rect x="343.70" y="94.26" width="2.97" height="2.97" fill="#d9474e"/>
<rect x="328.85" y="97.23" width="2.97" height="2.97" fill="#bf3a68"/>
<rect x="331.82" y="97.23" width="2.97" height="2.97" fill="#d9474e"/>
<rect x="334.79" y="97.23" width="2.97" height="2.97" fill="#ee6b2b"/>
<rect x="340.73" y="97.23" width="2.97" height="2.97" fill="#d9474e"/>
<rect x="343.70" y="97.23" width="2.97" height="2.97" fill="#ee6b2b"/>
<rect x="346.68" y="97.23" width="2.97" height="2.97" fill="#bf3a68"/>
<rect x="349.65" y="97.23" width="5.94" height="2.97" fill="#ee6b2b"/>
<rect x="361.53" y="97.23" width="2.97" height="2.97" fill="#bf3a68"/>
<rect x="334.79" y="100.20" width="2.97" height="2.97" fill="#fcc631"/>
<rect x="346.68" y="100.20" width="2.97" height="2.97" fill="#f7f08e"/>
<rect x="349.65" y="100.20" width="2.97" height="2.97" fill="#fcc631"/>
<rect x="355.59" y="100.20" width="2.97" height="2.97" fill="#fcc631"/>
<rect x="358.56" y="100.20" width="2.97" height="2.97" fill="#f7f08e"/>
<rect x="361.53" y="100.20" width="2.97" height="2.97" fill="#fcc631"/>
<rect x="420.95" y="100.20" width="2.97" height="2.97" fill="#7d2482"/>
<rect x="447.68" y="100.20" width="2.97" height="2.97" fill="#bf3a68"/>
<rect x="468.48" y="100.20" width="2.97" height="2.97" fill="#d9474e"/>
<rect x="334.79" y="103.17" width="2.97" height="2.97" fill="#fcc631"/>
<rect x="346.68" y="103.17" width="2.97" height="2.97" fill="#f7f08e"/>
<rect x="349.65" y="103.17" width="2.97" height="2.97" fill="#fcc631"/>
<rect x="355.59" y="103.17" width="8.91" height="2.97" fill="#fcc631"/>
<rect x="370.44" y="103.17" width="2.97" height="2.97" fill="#fcc631"/>
<rect x="420.95" y="103.17" width="2.97" height="2.97" fill="#7d2482"/>
<rect x="438.77" y="103.17" width="2.97" height="2.97" fill="#7d2482"/>
<rect x="447.68" y="103.17" width="2.97" height="2.97" fill="#bf3a68"/>
<rect x="468.48" y="103.17" width="2.97" height="2.97" fill="#d9474e"/>
<rect x="346.68" y="106.14" width="2.97" height="2.97" fill="#f9921a"/>
<rect x="420.95" y="106.14" width="2.97" height="2.97" fill="#bf3a68"/>
<rect x="426.89" y="106.14" width="2.97" height="2.97" fill="#7d2482"/>
<rect x="429.86" y="106.14" width="2.97" height="2.97" fill="#bf3a68"/>
<rect x="438.77" y="106.14" width="2.97" height="2.97" fill="#bf3a68"/>
<rect x="450.65" y="106.14" width="2.97" height="2.97" fill="#7d2482"/>
<rect x="468.48" y="106.14" width="2.97" height="2.97" fill="#ee6b2b"/>
<rect x="370.44" y="109.11" width="2.97" height="2.97" fill="#fcc631"/>
<rect x="438.77" y="109.11" width="2.97" height="2.97" fill="#7d2482"/>
<rect x="447.68" y="109.11" width="2.97" height="2.97" fill="#bf3a68"/>
<rect x="468.48" y="109.11" width="2.97" height="2.97" fill="#ee6b2b"/>
<rect x="346.68" y="112.08" width="2.97" height="2.97" fill="#fcc631"/>
<rect x="358.56" y="112.08" width="5.94" height="2.97" fill="#fcc631"/>
<rect x="370.44" y="112.08" width="2.97" height="2.97" fill="#fcc631"/>
<rect x="432.83" y="112.08" width="2.97" height="2.97" fill="#7d2482"/>
<rect x="435.80" y="112.08" width="2.97" height="2.97" fill="#bf3a68"/>
<rect x="444.71" y="112.08" width="2.97" height="2.97" fill="#bf3a68"/>
<rect x="447.68" y="112.08" width="2.97" height="2.97" fill="#ee6b2b"/>
<rect x="468.48" y="112.08" width="2.97" height="2.97" fill="#ee6b2b"/>
<rect x="346.68" y="115.05" width="5.94" height="2.97" fill="#fcc631"/>
<rect x="355.59" y="115.05" width="8.91" height="2.97" fill="#fcc631"/>
<rect x="370.44" y="115.05" width="2.97" height="2.97" fill="#fcc631"/>
<rect x="432.83" y="115.05" width="5.94" height="2.97" fill="#d9474e"/>
<rect x="441.74" y="115.05" width="2.97" height="2.97" fill="#bf3a68"/>
<rect x="444.71" y="115.05" width="2.97" height="2.97" fill="#d9474e"/>
<rect x="447.68" y="115.05" width="2.97" height="2.97" fill="#f9921a"/>
<rect x="453.62" y="115.05" width="8.91" height="2.97" fill="#bf3a68"/>
<rect x="468.48" y="115.05" width="2.97" height="2.97" fill="#d9474e"/>
<rect x="420.95" y="118.03" width="2.97" height="2.97" fill="#7d2482"/>
<rect x="429.86" y="118.03" width="2.97" height="2.97" fill="#bf3a68"/>
<rect x="438.77" y="118.03" width="2.97" height="2.97" fill="#7d2482"/>
<rect x="468.48" y="118.03" width="2.97" height="2.97" fill="#d9474e"/>
<rect x="400.15" y="121.00" width="5.94" height="2.97" fill="#7d2482"/>
<rect x="406.09" y="121.00" width="2.97" height="2.97" fill="#bf3a68"/>
<rect x="417.98" y="121.00" width="2.97" height="2.97" fill="#7d2482"/>
<rect x="468.48" y="121.00" width="2.97" height="2.97" fill="#d9474e"/>
<rect x="447.68" y="123.97" width="2.97" height="2.97" fill="#7d2482"/>
<rect x="468.48" y="123.97" width="2.97" height="2.97" fill="#d9474e"/>
<rect x="406.09" y="126.94" width="2.97" height="2.97" fill="#bf3a68"/>
<rect x="406.09" y="129.91" width="2.97" height="2.97" fill="#7d2482"/>
<rect x="417.98" y="129.91" width="2.97" height="2.97" fill="#bf3a68"/>
<rect x="412.03" y="132.88" width="2.97" height="2.97" fill="#7d2482"/>
<rect x="415.00" y="132.88" width="2.97" height="2.97" fill="#d9474e"/>
<rect x="435.80" y="132.88" width="2.97" height="2.97" fill="#7d2482"/>
<rect x="450.65" y="132.88" width="2.97" height="2.97" fill="#f9921a"/>
<rect x="453.62" y="132.88" width="8.91" height="2.97" fill="#7d2482"/>
<rect x="462.54" y="132.88" width="2.97" height="2.97" fill="#d9474e"/>
<rect x="412.03" y="135.85" width="2.97" height="2.97" fill="#bf3a68"/>
<rect x="415.00" y="135.85" width="2.97" height="2.97" fill="#d9474e"/>
<rect x="432.83" y="135.85" width="2.97" height="2.97" fill="#7d2482"/>
<rect x="438.77" y="135.85" width="2.97" height="2.97" fill="#bf3a68"/>
<rect x="441.74" y="135.85" width="2.97" height="2.97" fill="#f9921a"/>
<rect x="444.71" y="135.85" width="2.97" height="2.97" fill="#d9474e"/>
<rect x="450.65" y="135.85" width="2.97" height="2.97" fill="#f7f08e"/>
<rect x="453.62" y="135.85" width="8.91" height="2.97" fill="#f9921a"/>
<rect x="462.54" y="135.85" width="2.97" height="2.97" fill="#f7f08e"/>
<rect x="465.51" y="135.85" width="2.97" height="2.97" fill="#ee6b2b"/>
<rect x="468.48" y="135.85" width="2.97" height="2.97" fill="#d9474e"/>
<rect x="403.12" y="138.82" width="2.97" height="2.97" fill="#7d2482"/>
<rect x="406.09" y="138.82" width="2.97" height="2.97" fill="#bf3a68"/>
<rect x="409.06" y="138.82" width="2.97" height="2.97" fill="#7d2482"/>
<rect x="417.98" y="138.82" width="2.97" height="2.97" fill="#7d2482"/>
<rect x="435.80" y="138.82" width="2.97" height="2.97" fill="#bf3a68"/>
<rect x="444.71" y="138.82" width="2.97" height="2.97" fill="#7d2482"/>
<rect x="415.00" y="141.79" width="2.97" height="2.97" fill="#bf3a68"/>
<rect x="435.80" y="141.79" width="2.97" height="2.97" fill="#f9921a"/>
<rect x="447.68" y="141.79" width="2.97" height="2.97" fill="#d9474e"/>
<rect x="450.65" y="141.79" width="2.97" height="2.97" fill="#f9921a"/>
<rect x="462.54" y="141.79" width="2.97" height="2.97" fill="#d9474e"/>
<rect x="468.48" y="141.79" width="2.97" height="2.97" fill="#d9474e"/>
<rect x="412.03" y="144.76" width="2.97" height="2.97" fill="#bf3a68"/>
<rect x="415.00" y="144.76" width="2.97" height="2.97" fill="#d9474e"/>
<rect x="435.80" y="144.76" width="2.97" height="2.97" fill="#d9474e"/>
<rect x="438.77" y="144.76" width="2.97" height="2.97" fill="#7d2482"/>
<rect x="450.65" y="144.76" width="2.97" height="2.97" fill="#f9921a"/>
<rect x="453.62" y="144.76" width="2.97" height="2.97" fill="#7d2482"/>
<rect x="462.54" y="144.76" width="2.97" height="2.97" fill="#ee6b2b"/>
<rect x="400.15" y="147.73" width="2.97" height="2.97" fill="#bf3a68"/>
<rect x="403.12" y="147.73" width="2.97" height="2.97" fill="#d9474e"/>
<rect x="409.06" y="147.73" width="2.97" height="2.97" fill="#bf3a68"/>
<rect x="412.03" y="147.73" width="2.97" height="2.97" fill="#ee6b2b"/>
<rect x="415.00" y="147.73" width="2.97" height="2.97" fill="#f9921a"/>
<rect x="423.92" y="147.73" width="2.97" height="2.97" fill="#7d2482"/>
<rect x="441.74" y="147.73" width="2.97" height="2.97" fill="#d9474e"/>
<rect x="450.65" y="147.73" width="2.97" height="2.97" fill="#fcc631"/>
<rect x="453.62" y="147.73" width="8.91" height="2.97" fill="#f9921a"/>
<rect x="462.54" y="147.73" width="2.97" height="2.97" fill="#f7f08e"/>
<rect x="465.51" y="147.73" width="5.94" height="2.97" fill="#ee6b2b"/>
<rect x="406.09" y="150.70" width="2.97" height="2.97" fill="#7d2482"/>
<rect x="432.83" y="150.70" width="2.97" height="2.97" fill="#f9921a"/>
<rect x="435.80" y="150.70" width="2.97" height="2.97" fill="#f7f08e"/>
<rect x="441.74" y="150.70" width="5.94" height="2.97" fill="#f9921a"/>
<rect x="447.68" y="150.70" width="2.97" height="2.97" fill="#fcc631"/>
<rect x="453.62" y="150.70" width="8.91" height="2.97" fill="#d9474e"/>
<rect x="465.51" y="150.70" width="2.97" height="2.97" fill="#7d2482"/>
<rect x="415.00" y="153.67" width="2.97" height="2.97" fill="#bf3a68"/>
<rect x="432.83" y="153.67" width="2.97" height="2.97" fill="#7d2482"/>
<rect x="435.80" y="153.67" width="2.97" height="2.97" fill="#f9921a"/>
<rect x="444.71" y="153.67" width="2.97" height="2.97" fill="#7d2482"/>
<rect x="447.68" y="153.67" width="2.97" height="2.97" fill="#f9921a"/>
<rect x="450.65" y="153.67" width="2.97" height="2.97" fill="#d9474e"/>
<rect x="462.54" y="153.67" width="2.97" height="2.97" fill="#d9474e"/>
<rect x="468.48" y="153.67" width="2.97" height="2.97" fill="#f9921a"/>
<rect x="415.00" y="156.65" width="2.97" height="2.97" fill="#bf3a68"/>
<rect x="432.83" y="156.65" width="2.97" height="2.97" fill="#7d2482"/>
<rect x="435.80" y="156.65" width="2.97" height="2.97" fill="#f9921a"/>
<rect x="447.68" y="156.65" width="2.97" height="2.97" fill="#f9921a"/>
<rect x="450.65" y="156.65" width="2.97" height="2.97" fill="#d9474e"/>
<rect x="462.54" y="156.65" width="2.97" height="2.97" fill="#d9474e"/>
<rect x="468.48" y="156.65" width="2.97" height="2.97" fill="#f9921a"/>
<rect x="415.00" y="159.62" width="2.97" height="2.97" fill="#bf3a68"/>
<rect x="432.83" y="159.62" width="2.97" height="2.97" fill="#7d2482"/>
<rect x="435.80" y="159.62" width="2.97" height="2.97" fill="#f9921a"/>
<rect x="447.68" y="159.62" width="2.97" height="2.97" fill="#f9921a"/>
<rect x="450.65" y="159.62" width="2.97" height="2.97" fill="#d9474e"/>
<rect x="462.54" y="159.62" width="2.97" height="2.97" fill="#d9474e"/>
<rect x="468.48" y="159.62" width="2.97" height="2.97" fill="#f9921a"/>
<rect x="346.68" y="162.59" width="2.97" height="2.97" fill="#fcc631"/>
<rect x="358.56" y="162.59" width="2.97" height="2.97" fill="#fcc631"/>
<rect x="361.53" y="162.59" width="2.97" height="2.97" fill="#f9921a"/>
<rect x="432.83" y="162.59" width="2.97" height="2.97" fill="#d9474e"/>
<rect x="435.80" y="162.59" width="2.97" height="2.97" fill="#f7f08e"/>
<rect x="441.74" y="162.59" width="2.97" height="2.97" fill="#d9474e"/>
<rect x="444.71" y="162.59" width="2.97" height="2.97" fill="#ee6b2b"/>
<rect x="447.68" y="162.59" width="2.97" height="2.97" fill="#f7f08e"/>
<rect x="453.62" y="162.59" width="8.91" height="2.97" fill="#d9474e"/>
<rect x="465.51" y="162.59" width="2.97" height="2.97" fill="#7d2482"/>
<rect x="435.80" y="165.56" width="2.97" height="2.97" fill="#ee6b2b"/>
<rect x="447.68" y="165.56" width="2.97" height="2.97" fill="#ee6b2b"/>
<rect x="450.65" y="165.56" width="2.97" height="2.97" fill="#7d2482"/>
<rect x="462.54" y="165.56" width="2.97" height="2.97" fill="#7d2482"/>
<rect x="468.48" y="165.56" width="2.97" height="2.97" fill="#d9474e"/>
<rect x="346.68" y="168.53" width="5.94" height="2.97" fill="#f9921a"/>
<rect x="400.15" y="168.53" width="5.94" height="2.97" fill="#bf3a68"/>
<rect x="406.09" y="168.53" width="2.97" height="2.97" fill="#d9474e"/>
<rect x="409.06" y="168.53" width="2.97" height="2.97" fill="#ee6b2b"/>
<rect x="412.03" y="168.53" width="8.91" height="2.97" fill="#d9474e"/>
<rect x="420.95" y="168.53" width="5.94" height="2.97" fill="#bf3a68"/>
<rect x="435.80" y="168.53" width="2.97" height="2.97" fill="#d9474e"/>
<rect x="441.74" y="168.53" width="2.97" height="2.97" fill="#bf3a68"/>
<rect x="447.68" y="168.53" width="2.97" height="2.97" fill="#ee6b2b"/>
<rect x="453.62" y="168.53" width="8.91" height="2.97" fill="#f9921a"/>
<rect x="465.51" y="168.53" width="2.97" height="2.97" fill="#d9474e"/>
</g></g>
<text x="357.1" y="189.0" class="sans" font-size="13.9" text-anchor="middle" fill="#484848">10</text>
<text x="325.6" y="62.7" class="sans" font-size="13.9" text-anchor="end" fill="#484848">10</text>
<text x="386.8" y="189.0" class="sans" font-size="13.9" text-anchor="middle" fill="#484848">20</text>
<text x="325.6" y="92.4" class="sans" font-size="13.9" text-anchor="end" fill="#484848">20</text>
<text x="416.5" y="189.0" class="sans" font-size="13.9" text-anchor="middle" fill="#484848">30</text>
<text x="325.6" y="122.1" class="sans" font-size="13.9" text-anchor="end" fill="#484848">30</text>
<text x="446.2" y="189.0" class="sans" font-size="13.9" text-anchor="middle" fill="#484848">40</text>
<text x="325.6" y="151.8" class="sans" font-size="13.9" text-anchor="end" fill="#484848">40</text>
<clipPath id="hc2"><rect x="582.30" y="28.90" width="142.60" height="142.60"/></clipPath>
<g clip-path="url(#hc2)"><g filter="url(#bl)" shape-rendering="crispEdges">
<rect x="578.30" y="24.90" width="150.60" height="150.60" fill="#08070d"/>
<rect x="588.24" y="28.90" width="2.97" height="2.97" fill="#bf3a68"/>
<rect x="600.12" y="28.90" width="2.97" height="2.97" fill="#f9921a"/>
<rect x="603.10" y="28.90" width="2.97" height="2.97" fill="#ee6b2b"/>
<rect x="609.04" y="28.90" width="8.91" height="2.97" fill="#f9921a"/>
<rect x="620.92" y="28.90" width="5.94" height="2.97" fill="#d9474e"/>
<rect x="626.86" y="28.90" width="2.97" height="2.97" fill="#ee6b2b"/>
<rect x="644.69" y="28.90" width="2.97" height="2.97" fill="#d9474e"/>
<rect x="650.63" y="28.90" width="2.97" height="2.97" fill="#bf3a68"/>
<rect x="653.60" y="28.90" width="2.97" height="2.97" fill="#a4337a"/>
<rect x="656.57" y="28.90" width="2.97" height="2.97" fill="#5c1f80"/>
<rect x="659.54" y="28.90" width="2.97" height="2.97" fill="#2a1257"/>
<rect x="665.48" y="28.90" width="5.94" height="2.97" fill="#5c1f80"/>
<rect x="674.40" y="28.90" width="2.97" height="2.97" fill="#5c1f80"/>
<rect x="680.34" y="28.90" width="8.91" height="2.97" fill="#5c1f80"/>
<rect x="689.25" y="28.90" width="2.97" height="2.97" fill="#2a1257"/>
<rect x="692.22" y="28.90" width="2.97" height="2.97" fill="#a4337a"/>
<rect x="695.19" y="28.90" width="2.97" height="2.97" fill="#5c1f80"/>
<rect x="698.16" y="28.90" width="5.94" height="2.97" fill="#2a1257"/>
<rect x="704.10" y="28.90" width="11.88" height="2.97" fill="#5c1f80"/>
<rect x="715.99" y="28.90" width="2.97" height="2.97" fill="#a4337a"/>
<rect x="718.96" y="28.90" width="2.97" height="2.97" fill="#2a1257"/>
<rect x="721.93" y="28.90" width="2.97" height="2.97" fill="#ee6b2b"/>
<rect x="588.24" y="31.87" width="2.97" height="2.97" fill="#bf3a68"/>
<rect x="600.12" y="31.87" width="2.97" height="2.97" fill="#f9921a"/>
<rect x="603.10" y="31.87" width="2.97" height="2.97" fill="#ee6b2b"/>
<rect x="609.04" y="31.87" width="8.91" height="2.97" fill="#f9921a"/>
<rect x="617.95" y="31.87" width="2.97" height="2.97" fill="#bf3a68"/>
<rect x="620.92" y="31.87" width="2.97" height="2.97" fill="#d9474e"/>
<rect x="623.89" y="31.87" width="5.94" height="2.97" fill="#ee6b2b"/>
<rect x="629.83" y="31.87" width="2.97" height="2.97" fill="#d9474e"/>
<rect x="638.75" y="31.87" width="2.97" height="2.97" fill="#d9474e"/>
<rect x="644.69" y="31.87" width="2.97" height="2.97" fill="#d9474e"/>
<rect x="650.63" y="31.87" width="2.97" height="2.97" fill="#d9474e"/>
<rect x="653.60" y="31.87" width="2.97" height="2.97" fill="#a4337a"/>
<rect x="656.57" y="31.87" width="5.94" height="2.97" fill="#5c1f80"/>
<rect x="665.48" y="31.87" width="2.97" height="2.97" fill="#2a1257"/>
<rect x="668.45" y="31.87" width="2.97" height="2.97" fill="#5c1f80"/>
<rect x="674.40" y="31.87" width="2.97" height="2.97" fill="#5c1f80"/>
<rect x="680.34" y="31.87" width="2.97" height="2.97" fill="#2a1257"/>
<rect x="683.31" y="31.87" width="2.97" height="2.97" fill="#5c1f80"/>
<rect x="686.28" y="31.87" width="5.94" height="2.97" fill="#2a1257"/>
<rect x="692.22" y="31.87" width="2.97" height="2.97" fill="#a4337a"/>
<rect x="695.19" y="31.87" width="2.97" height="2.97" fill="#5c1f80"/>
<rect x="698.16" y="31.87" width="5.94" height="2.97" fill="#2a1257"/>
<rect x="704.10" y="31.87" width="11.88" height="2.97" fill="#5c1f80"/>
<rect x="715.99" y="31.87" width="2.97" height="2.97" fill="#a4337a"/>
<rect x="718.96" y="31.87" width="2.97" height="2.97" fill="#2a1257"/>
<rect x="721.93" y="31.87" width="2.97" height="2.97" fill="#ee6b2b"/>
<rect x="582.30" y="34.84" width="5.94" height="2.97" fill="#bf3a68"/>
<rect x="597.15" y="34.84" width="2.97" height="2.97" fill="#bf3a68"/>
<rect x="609.04" y="34.84" width="2.97" height="2.97" fill="#f9921a"/>
<rect x="644.69" y="34.84" width="2.97" height="2.97" fill="#ee6b2b"/>
<rect x="650.63" y="34.84" width="2.97" height="2.97" fill="#ee6b2b"/>
<rect x="653.60" y="34.84" width="5.94" height="2.97" fill="#fcc631"/>
<rect x="659.54" y="34.84" width="2.97" height="2.97" fill="#f9921a"/>
<rect x="662.51" y="34.84" width="2.97" height="2.97" fill="#ee6b2b"/>
<rect x="665.48" y="34.84" width="5.94" height="2.97" fill="#f9921a"/>
<rect x="671.42" y="34.84" width="2.97" height="2.97" fill="#2a1257"/>
<rect x="677.37" y="34.84" width="11.88" height="2.97" fill="#2a1257"/>
<rect x="689.25" y="34.84" width="2.97" height="2.97" fill="#5c1f80"/>
<rect x="692.22" y="34.84" width="2.97" height="2.97" fill="#a4337a"/>
<rect x="695.19" y="34.84" width="2.97" height="2.97" fill="#ee6b2b"/>
<rect x="698.16" y="34.84" width="2.97" height="2.97" fill="#a4337a"/>
<rect x="701.13" y="34.84" width="2.97" height="2.97" fill="#2a1257"/>
<rect x="704.10" y="34.84" width="11.88" height="2.97" fill="#ee6b2b"/>
<rect x="715.99" y="34.84" width="2.97" height="2.97" fill="#fcc631"/>
<rect x="718.96" y="34.84" width="2.97" height="2.97" fill="#ee6b2b"/>
<rect x="721.93" y="34.84" width="2.97" height="2.97" fill="#f9921a"/>
<rect x="609.04" y="37.81" width="2.97" height="2.97" fill="#ee6b2b"/>
<rect x="612.01" y="37.81" width="2.97" height="2.97" fill="#d9474e"/>
<rect x="620.92" y="37.81" width="2.97" height="2.97" fill="#bf3a68"/>
<rect x="626.86" y="37.81" width="2.97" height="2.97" fill="#bf3a68"/>
<rect x="644.69" y="37.81" width="2.97" height="2.97" fill="#d9474e"/>
<rect x="653.60" y="37.81" width="2.97" height="2.97" fill="#f9921a"/>
<rect x="656.57" y="37.81" width="2.97" height="2.97" fill="#ee6b2b"/>
<rect x="659.54" y="37.81" width="2.97" height="2.97" fill="#d2445c"/>
<rect x="662.51" y="37.81" width="2.97" height="2.97" fill="#a4337a"/>
<rect x="665.48" y="37.81" width="2.97" height="2.97" fill="#d2445c"/>
<rect x="668.45" y="37.81" width="2.97" height="2.97" fill="#ee6b2b"/>
<rect x="671.42" y="37.81" width="20.80" height="2.97" fill="#2a1257"/>
<rect x="692.22" y="37.81" width="2.97" height="2.97" fill="#5c1f80"/>
<rect x="695.19" y="37.81" width="2.97" height="2.97" fill="#d2445c"/>
<rect x="698.16" y="37.81" width="2.97" height="2.97" fill="#5c1f80"/>
<rect x="701.13" y="37.81" width="2.97" height="2.97" fill="#2a1257"/>
<rect x="704.10" y="37.81" width="11.88" height="2.97" fill="#a4337a"/>
<rect x="715.99" y="37.81" width="2.97" height="2.97" fill="#ee6b2b"/>
<rect x="718.96" y="37.81" width="2.97" height="2.97" fill="#a4337a"/>
<rect x="721.93" y="37.81" width="2.97" height="2.97" fill="#ee6b2b"/>
<rect x="600.12" y="40.78" width="2.97" height="2.97" fill="#ee6b2b"/>
<rect x="609.04" y="40.78" width="8.91" height="2.97" fill="#f9921a"/>
<rect x="620.92" y="40.78" width="2.97" height="2.97" fill="#ee6b2b"/>
<rect x="623.89" y="40.78" width="2.97" height="2.97" fill="#d9474e"/>
<rect x="626.86" y="40.78" width="2.97" height="2.97" fill="#ee6b2b"/>
<rect x="629.83" y="40.78" width="2.97" height="2.97" fill="#bf3a68"/>
<rect x="638.75" y="40.78" width="2.97" height="2.97" fill="#bf3a68"/>
<rect x="644.69" y="40.78" width="2.97" height="2.97" fill="#ee6b2b"/>
<rect x="650.63" y="40.78" width="2.97" height="2.97" fill="#d9474e"/>
<rect x="653.60" y="40.78" width="2.97" height="2.97" fill="#f9921a"/>
<rect x="656.57" y="40.78" width="2.97" height="2.97" fill="#ee6b2b"/>
<rect x="659.54" y="40.78" width="2.97" height="2.97" fill="#d2445c"/>
<rect x="662.51" y="40.78" width="2.97" height="2.97" fill="#a4337a"/>
<rect x="665.48" y="40.78" width="2.97" height="2.97" fill="#d2445c"/>
<rect x="668.45" y="40.78" width="2.97" height="2.97" fill="#ee6b2b"/>
<rect x="674.40" y="40.78" width="2.97" height="2.97" fill="#5c1f80"/>
<rect x="680.34" y="40.78" width="8.91" height="2.97" fill="#5c1f80"/>
<rect x="689.25" y="40.78" width="2.97" height="2.97" fill="#2a1257"/>
<rect x="692.22" y="40.78" width="5.94" height="2.97" fill="#a4337a"/>
<rect x="698.16" y="40.78" width="2.97" height="2.97" fill="#5c1f80"/>
<rect x="701.13" y="40.78" width="2.97" height="2.97" fill="#2a1257"/>
<rect x="704.10" y="40.78" width="11.88" height="2.97" fill="#a4337a"/>
<rect x="715.99" y="40.78" width="2.97" height="2.97" fill="#d2445c"/>
<rect x="718.96" y="40.78" width="2.97" height="2.97" fill="#5c1f80"/>
<rect x="721.93" y="40.78" width="2.97" height="2.97" fill="#ee6b2b"/>
<rect x="588.24" y="43.75" width="2.97" height="2.97" fill="#bf3a68"/>
<rect x="600.12" y="43.75" width="2.97" height="2.97" fill="#f9921a"/>
<rect x="603.10" y="43.75" width="2.97" height="2.97" fill="#ee6b2b"/>
<rect x="609.04" y="43.75" width="8.91" height="2.97" fill="#f9921a"/>
<rect x="617.95" y="43.75" width="8.91" height="2.97" fill="#ee6b2b"/>
<rect x="626.86" y="43.75" width="2.97" height="2.97" fill="#f9921a"/>
<rect x="629.83" y="43.75" width="2.97" height="2.97" fill="#ee6b2b"/>
<rect x="632.80" y="43.75" width="5.94" height="2.97" fill="#bf3a68"/>
<rect x="638.75" y="43.75" width="2.97" height="2.97" fill="#d9474e"/>
<rect x="641.72" y="43.75" width="5.94" height="2.97" fill="#ee6b2b"/>
<rect x="647.66" y="43.75" width="2.97" height="2.97" fill="#d9474e"/>
<rect x="650.63" y="43.75" width="2.97" height="2.97" fill="#ee6b2b"/>
<rect x="653.60" y="43.75" width="2.97" height="2.97" fill="#a4337a"/>
<rect x="656.57" y="43.75" width="2.97" height="2.97" fill="#5c1f80"/>
<rect x="659.54" y="43.75" width="2.97" height="2.97" fill="#2a1257"/>
<rect x="665.48" y="43.75" width="5.94" height="2.97" fill="#5c1f80"/>
<rect x="671.42" y="43.75" width="2.97" height="2.97" fill="#2a1257"/>
<rect x="674.40" y="43.75" width="2.97" height="2.97" fill="#5c1f80"/>
<rect x="677.37" y="43.75" width="2.97" height="2.97" fill="#2a1257"/>
<rect x="680.34" y="43.75" width="2.97" height="2.97" fill="#a4337a"/>
<rect x="683.31" y="43.75" width="5.94" height="2.97" fill="#5c1f80"/>
<rect x="692.22" y="43.75" width="2.97" height="2.97" fill="#d2445c"/>
<rect x="695.19" y="43.75" width="2.97" height="2.97" fill="#a4337a"/>
<rect x="698.16" y="43.75" width="5.94" height="2.97" fill="#2a1257"/>
<rect x="704.10" y="43.75" width="11.88" height="2.97" fill="#5c1f80"/>
<rect x="715.99" y="43.75" width="2.97" height="2.97" fill="#a4337a"/>
<rect x="718.96" y="43.75" width="2.97" height="2.97" fill="#5c1f80"/>
<rect x="721.93" y="43.75" width="2.97" height="2.97" fill="#ee6b2b"/>
<rect x="582.30" y="46.72" width="5.94" height="2.97" fill="#f9921a"/>
<rect x="594.18" y="46.72" width="2.97" height="2.97" fill="#ee6b2b"/>
<rect x="597.15" y="46.72" width="2.97" height="2.97" fill="#f9921a"/>
<rect x="606.07" y="46.72" width="2.97" height="2.97" fill="#bf3a68"/>
<rect x="644.69" y="46.72" width="2.97" height="2.97" fill="#d9474e"/>
<rect x="650.63" y="46.72" width="2.97" height="2.97" fill="#bf3a68"/>
<rect x="653.60" y="46.72" width="5.94" height="2.97" fill="#f7f08e"/>
<rect x="659.54" y="46.72" width="11.88" height="2.97" fill="#fcc631"/>
<rect x="671.42" y="46.72" width="2.97" height="2.97" fill="#d2445c"/>
<rect x="674.40" y="46.72" width="2.97" height="2.97" fill="#5c1f80"/>
<rect x="677.37" y="46.72" width="2.97" height="2.97" fill="#a4337a"/>
<rect x="689.25" y="46.72" width="2.97" height="2.97" fill="#2a1257"/>
<rect x="692.22" y="46.72" width="2.97" height="2.97" fill="#5c1f80"/>
<rect x="695.19" y="46.72" width="2.97" height="2.97" fill="#f9921a"/>
<rect x="698.16" y="46.72" width="2.97" height="2.97" fill="#a4337a"/>
<rect x="704.10" y="46.72" width="2.97" height="2.97" fill="#ee6b2b"/>
<rect x="707.07" y="46.72" width="8.91" height="2.97" fill="#f9921a"/>
<rect x="715.99" y="46.72" width="2.97" height="2.97" fill="#fcc631"/>
<rect x="718.96" y="46.72" width="5.94" height="2.97" fill="#f9921a"/>
<rect x="582.30" y="49.70" width="5.94" height="2.97" fill="#ee6b2b"/>
<rect x="597.15" y="49.70" width="2.97" height="2.97" fill="#ee6b2b"/>
<rect x="609.04" y="49.70" width="2.97" height="2.97" fill="#ee6b2b"/>
<rect x="612.01" y="49.70" width="2.97" height="2.97" fill="#d9474e"/>
<rect x="620.92" y="49.70" width="2.97" height="2.97" fill="#f9921a"/>
<rect x="644.69" y="49.70" width="2.97" height="2.97" fill="#f9921a"/>
<rect x="650.63" y="49.70" width="2.97" height="2.97" fill="#ee6b2b"/>
<rect x="653.60" y="49.70" width="5.94" height="2.97" fill="#fcc631"/>
<rect x="659.54" y="49.70" width="8.91" height="2.97" fill="#f9921a"/>
<rect x="668.45" y="49.70" width="2.97" height="2.97" fill="#fcc631"/>
<rect x="671.42" y="49.70" width="2.97" height="2.97" fill="#a4337a"/>
<rect x="674.40" y="49.70" width="2.97" height="2.97" fill="#5c1f80"/>
<rect x="677.37" y="49.70" width="2.97" height="2.97" fill="#a4337a"/>
<rect x="680.34" y="49.70" width="11.88" height="2.97" fill="#2a1257"/>
<rect x="692.22" y="49.70" width="2.97" height="2.97" fill="#5c1f80"/>
<rect x="695.19" y="49.70" width="2.97" height="2.97" fill="#ee6b2b"/>
<rect x="698.16" y="49.70" width="2.97" height="2.97" fill="#a4337a"/>
<rect x="704.10" y="49.70" width="2.97" height="2.97" fill="#d2445c"/>
<rect x="707.07" y="49.70" width="8.91" height="2.97" fill="#ee6b2b"/>
<rect x="715.99" y="49.70" width="2.97" height="2.97" fill="#f9921a"/>
<rect x="718.96" y="49.70" width="2.97" height="2.97" fill="#ee6b2b"/>
<rect x="721.93" y="49.70" width="2.97" height="2.97" fill="#f9921a"/>
<rect x="600.12" y="52.67" width="2.97" height="2.97" fill="#bf3a68"/>
<rect x="609.04" y="52.67" width="5.94" height="2.97" fill="#ee6b2b"/>
<rect x="614.98" y="52.67" width="2.97" height="2.97" fill="#d9474e"/>
<rect x="620.92" y="52.67" width="2.97" height="2.97" fill="#ee6b2b"/>
<rect x="626.86" y="52.67" width="2.97" height="2.97" fill="#ee6b2b"/>
<rect x="644.69" y="52.67" width="2.97" height="2.97" fill="#ee6b2b"/>
<rect x="650.63" y="52.67" width="2.97" height="2.97" fill="#ee6b2b"/>
<rect x="653.60" y="52.67" width="2.97" height="2.97" fill="#a4337a"/>
<rect x="656.57" y="52.67" width="5.94" height="2.97" fill="#5c1f80"/>
<rect x="662.51" y="52.67" width="2.97" height="2.97" fill="#2a1257"/>
<rect x="665.48" y="52.67" width="5.94" height="2.97" fill="#5c1f80"/>
<rect x="671.42" y="52.67" width="8.91" height="2.97" fill="#2a1257"/>
<rect x="680.34" y="52.67" width="8.91" height="2.97" fill="#5c1f80"/>
<rect x="692.22" y="52.67" width="2.97" height="2.97" fill="#a4337a"/>
<rect x="695.19" y="52.67" width="5.94" height="2.97" fill="#5c1f80"/>
<rect x="701.13" y="52.67" width="2.97" height="2.97" fill="#2a1257"/>
<rect x="704.10" y="52.67" width="11.88" height="2.97" fill="#5c1f80"/>
<rect x="715.99" y="52.67" width="2.97" height="2.97" fill="#d2445c"/>
<rect x="718.96" y="52.67" width="2.97" height="2.97" fill="#5c1f80"/>
<rect x="721.93" y="52.67" width="2.97" height="2.97" fill="#ee6b2b"/>
<rect x="582.30" y="55.64" width="8.91" height="2.97" fill="#f9921a"/>
<rect x="591.21" y="55.64" width="2.97" height="2.97" fill="#ee6b2b"/>
<rect x="594.18" y="55.64" width="5.94" height="2.97" fill="#f9921a"/>
<rect x="603.10" y="55.64" width="5.94" height="2.97" fill="#ee6b2b"/>
<rect x="653.60" y="55.64" width="5.94" height="2.97" fill="#fcc631"/>
<rect x="659.54" y="55.64" width="8.91" height="2.97" fill="#f9921a"/>
<rect x="668.45" y="55.64" width="2.97" height="2.97" fill="#fcc631"/>
<rect x="671.42" y="55.64" width="2.97" height="2.97" fill="#a4337a"/>
<rect x="674.40" y="55.64" width="2.97" height="2.97" fill="#5c1f80"/>
<rect x="677.37" y="55.64" width="2.97" height="2.97" fill="#a4337a"/>
<rect x="683.31" y="55.64" width="5.94" height="2.97" fill="#2a1257"/>
<rect x="692.22" y="55.64" width="2.97" height="2.97" fill="#2a1257"/>
<rect x="695.19" y="55.64" width="2.97" height="2.97" fill="#f9921a"/>
<rect x="698.16" y="55.64" width="2.97" height="2.97" fill="#a4337a"/>
<rect x="701.13" y="55.64" width="2.97" height="2.97" fill="#2a1257"/>
<rect x="704.10" y="55.64" width="2.97" height="2.97" fill="#ee6b2b"/>
<rect x="707.07" y="55.64" width="8.91" height="2.97" fill="#f9921a"/>
<rect x="715.99" y="55.64" width="2.97" height="2.97" fill="#fcc631"/>
<rect x="718.96" y="55.64" width="2.97" height="2.97" fill="#ee6b2b"/>
<rect x="721.93" y="55.64" width="2.97" height="2.97" fill="#5c1f80"/>
<rect x="582.30" y="58.61" width="5.94" height="2.97" fill="#f9921a"/>
<rect x="591.21" y="58.61" width="2.97" height="2.97" fill="#d9474e"/>
<rect x="594.18" y="58.61" width="5.94" height="2.97" fill="#f9921a"/>
<rect x="603.10" y="58.61" width="2.97" height="2.97" fill="#d9474e"/>
<rect x="606.07" y="58.61" width="2.97" height="2.97" fill="#ee6b2b"/>
<rect x="653.60" y="58.61" width="5.94" height="2.97" fill="#fcc631"/>
<rect x="659.54" y="58.61" width="5.94" height="2.97" fill="#f9921a"/>
<rect x="665.48" y="58.61" width="5.94" height="2.97" fill="#fcc631"/>
<rect x="671.42" y="58.61" width="2.97" height="2.97" fill="#d2445c"/>
<rect x="674.40" y="58.61" width="2.97" height="2.97" fill="#5c1f80"/>
<rect x="677.37" y="58.61" width="2.97" height="2.97" fill="#a4337a"/>
<rect x="686.28" y="58.61" width="2.97" height="2.97" fill="#2a1257"/>
<rect x="692.22" y="58.61" width="2.97" height="2.97" fill="#2a1257"/>
<rect x="695.19" y="58.61" width="2.97" height="2.97" fill="#f9921a"/>
<rect x="698.16" y="58.61" width="2.97" height="2.97" fill="#a4337a"/>
<rect x="704.10" y="58.61" width="2.97" height="2.97" fill="#ee6b2b"/>
<rect x="707.07" y="58.61" width="8.91" height="2.97" fill="#f9921a"/>
<rect x="715.99" y="58.61" width="2.97" height="2.97" fill="#fcc631"/>
<rect x="718.96" y="58.61" width="2.97" height="2.97" fill="#f9921a"/>
<rect x="721.93" y="58.61" width="2.97" height="2.97" fill="#ee6b2b"/>
<rect x="582.30" y="61.58" width="5.94" height="2.97" fill="#f9921a"/>
<rect x="594.18" y="61.58" width="5.94" height="2.97" fill="#f9921a"/>
<rect x="606.07" y="61.58" width="2.97" height="2.97" fill="#d9474e"/>
<rect x="644.69" y="61.58" width="2.97" height="2.97" fill="#bf3a68"/>
<rect x="650.63" y="61.58" width="2.97" height="2.97" fill="#bf3a68"/>
<rect x="653.60" y="61.58" width="5.94" height="2.97" fill="#fcc631"/>
<rect x="659.54" y="61.58" width="5.94" height="2.97" fill="#f9921a"/>
<rect x="665.48" y="61.58" width="5.94" height="2.97" fill="#fcc631"/>
<rect x="671.42" y="61.58" width="2.97" height="2.97" fill="#a4337a"/>
<rect x="674.40" y="61.58" width="2.97" height="2.97" fill="#5c1f80"/>
<rect x="677.37" y="61.58" width="2.97" height="2.97" fill="#a4337a"/>
<rect x="692.22" y="61.58" width="2.97" height="2.97" fill="#2a1257"/>
<rect x="695.19" y="61.58" width="2.97" height="2.97" fill="#f9921a"/>
<rect x="698.16" y="61.58" width="2.97" height="2.97" fill="#a4337a"/>
<rect x="704.10" y="61.58" width="2.97" height="2.97" fill="#ee6b2b"/>
<rect x="707.07" y="61.58" width="11.88" height="2.97" fill="#f9921a"/>
<rect x="718.96" y="61.58" width="5.94" height="2.97" fill="#ee6b2b"/>
<rect x="585.27" y="64.55" width="2.97" height="2.97" fill="#bf3a68"/>
<rect x="597.15" y="64.55" width="2.97" height="2.97" fill="#ee6b2b"/>
<rect x="644.69" y="64.55" width="2.97" height="2.97" fill="#bf3a68"/>
<rect x="653.60" y="64.55" width="2.97" height="2.97" fill="#f9921a"/>
<rect x="656.57" y="64.55" width="5.94" height="2.97" fill="#ee6b2b"/>
<rect x="662.51" y="64.55" width="2.97" height="2.97" fill="#d2445c"/>
<rect x="665.48" y="64.55" width="5.94" height="2.97" fill="#ee6b2b"/>
<rect x="671.42" y="64.55" width="2.97" height="2.97" fill="#a4337a"/>
<rect x="674.40" y="64.55" width="2.97" height="2.97" fill="#2a1257"/>
<rect x="677.37" y="64.55" width="2.97" height="2.97" fill="#a4337a"/>
<rect x="680.34" y="64.55" width="8.91" height="2.97" fill="#2a1257"/>
<rect x="692.22" y="64.55" width="2.97" height="2.97" fill="#5c1f80"/>
<rect x="695.19" y="64.55" width="2.97" height="2.97" fill="#ee6b2b"/>
<rect x="698.16" y="64.55" width="2.97" height="2.97" fill="#a4337a"/>
<rect x="701.13" y="64.55" width="2.97" height="2.97" fill="#2a1257"/>
<rect x="704.10" y="64.55" width="2.97" height="2.97" fill="#d2445c"/>
<rect x="707.07" y="64.55" width="11.88" height="2.97" fill="#ee6b2b"/>
<rect x="718.96" y="64.55" width="2.97" height="2.97" fill="#d2445c"/>
<rect x="721.93" y="64.55" width="2.97" height="2.97" fill="#f9921a"/>
<rect x="582.30" y="67.52" width="5.94" height="2.97" fill="#d9474e"/>
<rect x="591.21" y="67.52" width="2.97" height="2.97" fill="#bf3a68"/>
<rect x="594.18" y="67.52" width="5.94" height="2.97" fill="#ee6b2b"/>
<rect x="603.10" y="67.52" width="2.97" height="2.97" fill="#f9921a"/>
<rect x="606.07" y="67.52" width="2.97" height="2.97" fill="#ee6b2b"/>
<rect x="641.72" y="67.52" width="2.97" height="2.97" fill="#d9474e"/>
<rect x="653.60" y="67.52" width="5.94" height="2.97" fill="#f9921a"/>
<rect x="659.54" y="67.52" width="5.94" height="2.97" fill="#ee6b2b"/>
<rect x="665.48" y="67.52" width="5.94" height="2.97" fill="#f9921a"/>
<rect x="671.42" y="67.52" width="2.97" height="2.97" fill="#a4337a"/>
<rect x="674.40" y="67.52" width="2.97" height="2.97" fill="#5c1f80"/>
<rect x="677.37" y="67.52" width="2.97" height="2.97" fill="#a4337a"/>
<rect x="689.25" y="67.52" width="2.97" height="2.97" fill="#5c1f80"/>
<rect x="692.22" y="67.52" width="2.97" height="2.97" fill="#2a1257"/>
<rect x="695.19" y="67.52" width="2.97" height="2.97" fill="#f9921a"/>
<rect x="698.16" y="67.52" width="2.97" height="2.97" fill="#d2445c"/>
<rect x="701.13" y="67.52" width="2.97" height="2.97" fill="#5c1f80"/>
<rect x="704.10" y="67.52" width="2.97" height="2.97" fill="#d2445c"/>
<rect x="707.07" y="67.52" width="8.91" height="2.97" fill="#f9921a"/>
<rect x="715.99" y="67.52" width="2.97" height="2.97" fill="#ee6b2b"/>
<rect x="718.96" y="67.52" width="2.97" height="2.97" fill="#d2445c"/>
<rect x="582.30" y="70.49" width="2.97" height="2.97" fill="#d9474e"/>
<rect x="585.27" y="70.49" width="2.97" height="2.97" fill="#ee6b2b"/>
<rect x="594.18" y="70.49" width="2.97" height="2.97" fill="#d9474e"/>
<rect x="597.15" y="70.49" width="2.97" height="2.97" fill="#ee6b2b"/>
<rect x="653.60" y="70.49" width="8.91" height="2.97" fill="#fcc631"/>
<rect x="662.51" y="70.49" width="2.97" height="2.97" fill="#f9921a"/>
<rect x="665.48" y="70.49" width="5.94" height="2.97" fill="#fcc631"/>
<rect x="671.42" y="70.49" width="2.97" height="2.97" fill="#d2445c"/>
<rect x="674.40" y="70.49" width="2.97" height="2.97" fill="#a4337a"/>
<rect x="677.37" y="70.49" width="2.97" height="2.97" fill="#d2445c"/>
<rect x="680.34" y="70.49" width="11.88" height="2.97" fill="#2a1257"/>
<rect x="695.19" y="70.49" width="2.97" height="2.97" fill="#ee6b2b"/>
<rect x="698.16" y="70.49" width="2.97" height="2.97" fill="#a4337a"/>
<rect x="704.10" y="70.49" width="2.97" height="2.97" fill="#d2445c"/>
<rect x="707.07" y="70.49" width="11.88" height="2.97" fill="#ee6b2b"/>
<rect x="718.96" y="70.49" width="2.97" height="2.97" fill="#d2445c"/>
<rect x="721.93" y="70.49" width="2.97" height="2.97" fill="#2a1257"/>
<rect x="582.30" y="73.46" width="5.94" height="2.97" fill="#ee6b2b"/>
<rect x="591.21" y="73.46" width="2.97" height="2.97" fill="#bf3a68"/>
<rect x="594.18" y="73.46" width="2.97" height="2.97" fill="#ee6b2b"/>
<rect x="597.15" y="73.46" width="2.97" height="2.97" fill="#f9921a"/>
<rect x="606.07" y="73.46" width="2.97" height="2.97" fill="#ee6b2b"/>
<rect x="653.60" y="73.46" width="5.94" height="2.97" fill="#f9921a"/>
<rect x="659.54" y="73.46" width="5.94" height="2.97" fill="#ee6b2b"/>
<rect x="665.48" y="73.46" width="5.94" height="2.97" fill="#f9921a"/>
<rect x="671.42" y="73.46" width="2.97" height="2.97" fill="#a4337a"/>
<rect x="674.40" y="73.46" width="2.97" height="2.97" fill="#5c1f80"/>
<rect x="677.37" y="73.46" width="2.97" height="2.97" fill="#a4337a"/>
<rect x="680.34" y="73.46" width="8.91" height="2.97" fill="#2a1257"/>
<rect x="689.25" y="73.46" width="2.97" height="2.97" fill="#5c1f80"/>
<rect x="692.22" y="73.46" width="2.97" height="2.97" fill="#2a1257"/>
<rect x="695.19" y="73.46" width="2.97" height="2.97" fill="#ee6b2b"/>
<rect x="698.16" y="73.46" width="2.97" height="2.97" fill="#a4337a"/>
<rect x="701.13" y="73.46" width="2.97" height="2.97" fill="#2a1257"/>
<rect x="704.10" y="73.46" width="2.97" height="2.97" fill="#a4337a"/>
<rect x="707.07" y="73.46" width="11.88" height="2.97" fill="#ee6b2b"/>
<rect x="718.96" y="73.46" width="2.97" height="2.97" fill="#d2445c"/>
<rect x="721.93" y="73.46" width="2.97" height="2.97" fill="#5c1f80"/>
<rect x="585.27" y="76.43" width="2.97" height="2.97" fill="#d9474e"/>
<rect x="594.18" y="76.43" width="2.97" height="2.97" fill="#bf3a68"/>
<rect x="597.15" y="76.43" width="2.97" height="2.97" fill="#ee6b2b"/>
<rect x="653.60" y="76.43" width="5.94" height="2.97" fill="#d2445c"/>
<rect x="659.54" y="76.43" width="2.97" height="2.97" fill="#ee6b2b"/>
<rect x="662.51" y="76.43" width="2.97" height="2.97" fill="#d2445c"/>
<rect x="665.48" y="76.43" width="5.94" height="2.97" fill="#ee6b2b"/>
<rect x="671.42" y="76.43" width="2.97" height="2.97" fill="#a4337a"/>
<rect x="674.40" y="76.43" width="2.97" height="2.97" fill="#2a1257"/>
<rect x="677.37" y="76.43" width="2.97" height="2.97" fill="#5c1f80"/>
<rect x="683.31" y="76.43" width="5.94" height="2.97" fill="#2a1257"/>
<rect x="689.25" y="76.43" width="2.97" height="2.97" fill="#5c1f80"/>
<rect x="692.22" y="76.43" width="2.97" height="2.97" fill="#2a1257"/>
<rect x="695.19" y="76.43" width="2.97" height="2.97" fill="#d2445c"/>
<rect x="698.16" y="76.43" width="2.97" height="2.97" fill="#a4337a"/>
<rect x="701.13" y="76.43" width="2.97" height="2.97" fill="#2a1257"/>
<rect x="704.10" y="76.43" width="2.97" height="2.97" fill="#a4337a"/>
<rect x="707.07" y="76.43" width="11.88" height="2.97" fill="#d2445c"/>
<rect x="718.96" y="76.43" width="2.97" height="2.97" fill="#a4337a"/>
<rect x="721.93" y="76.43" width="2.97" height="2.97" fill="#5c1f80"/>
<rect x="597.15" y="79.40" width="2.97" height="2.97" fill="#bf3a68"/>
<rect x="653.60" y="79.40" width="2.97" height="2.97" fill="#a4337a"/>
<rect x="656.57" y="79.40" width="14.85" height="2.97" fill="#d2445c"/>
<rect x="671.42" y="79.40" width="2.97" height="2.97" fill="#a4337a"/>
<rect x="674.40" y="79.40" width="5.94" height="2.97" fill="#5c1f80"/>
<rect x="683.31" y="79.40" width="5.94" height="2.97" fill="#2a1257"/>
<rect x="689.25" y="79.40" width="2.97" height="2.97" fill="#5c1f80"/>
<rect x="692.22" y="79.40" width="2.97" height="2.97" fill="#2a1257"/>
<rect x="695.19" y="79.40" width="2.97" height="2.97" fill="#ee6b2b"/>
<rect x="698.16" y="79.40" width="2.97" height="2.97" fill="#a4337a"/>
<rect x="701.13" y="79.40" width="2.97" height="2.97" fill="#2a1257"/>
<rect x="704.10" y="79.40" width="2.97" height="2.97" fill="#a4337a"/>
<rect x="707.07" y="79.40" width="8.91" height="2.97" fill="#ee6b2b"/>
<rect x="715.99" y="79.40" width="2.97" height="2.97" fill="#a4337a"/>
<rect x="718.96" y="79.40" width="2.97" height="2.97" fill="#5c1f80"/>
<rect x="597.15" y="82.38" width="2.97" height="2.97" fill="#bf3a68"/>
<rect x="653.60" y="82.38" width="2.97" height="2.97" fill="#a4337a"/>
<rect x="656.57" y="82.38" width="8.91" height="2.97" fill="#d2445c"/>
<rect x="665.48" y="82.38" width="2.97" height="2.97" fill="#ee6b2b"/>
<rect x="668.45" y="82.38" width="2.97" height="2.97" fill="#d2445c"/>
<rect x="671.42" y="82.38" width="2.97" height="2.97" fill="#a4337a"/>
<rect x="674.40" y="82.38" width="5.94" height="2.97" fill="#5c1f80"/>
<rect x="683.31" y="82.38" width="5.94" height="2.97" fill="#2a1257"/>
<rect x="689.25" y="82.38" width="2.97" height="2.97" fill="#5c1f80"/>
<rect x="692.22" y="82.38" width="2.97" height="2.97" fill="#2a1257"/>
<rect x="695.19" y="82.38" width="2.97" height="2.97" fill="#ee6b2b"/>
<rect x="698.16" y="82.38" width="2.97" height="2.97" fill="#a4337a"/>
<rect x="701.13" y="82.38" width="2.97" height="2.97" fill="#2a1257"/>
<rect x="704.10" y="82.38" width="2.97" height="2.97" fill="#a4337a"/>
<rect x="707.07" y="82.38" width="8.91" height="2.97" fill="#ee6b2b"/>
<rect x="715.99" y="82.38" width="2.97" height="2.97" fill="#a4337a"/>
<rect x="718.96" y="82.38" width="2.97" height="2.97" fill="#5c1f80"/>
<rect x="585.27" y="85.35" width="2.97" height="2.97" fill="#d9474e"/>
<rect x="594.18" y="85.35" width="2.97" height="2.97" fill="#bf3a68"/>
<rect x="597.15" y="85.35" width="2.97" height="2.97" fill="#d9474e"/>
<rect x="653.60" y="85.35" width="2.97" height="2.97" fill="#d2445c"/>
<rect x="656.57" y="85.35" width="14.85" height="2.97" fill="#ee6b2b"/>
<rect x="671.42" y="85.35" width="2.97" height="2.97" fill="#a4337a"/>
<rect x="674.40" y="85.35" width="5.94" height="2.97" fill="#5c1f80"/>
<rect x="683.31" y="85.35" width="5.94" height="2.97" fill="#2a1257"/>
<rect x="689.25" y="85.35" width="2.97" height="2.97" fill="#5c1f80"/>
<rect x="692.22" y="85.35" width="2.97" height="2.97" fill="#2a1257"/>
<rect x="695.19" y="85.35" width="2.97" height="2.97" fill="#ee6b2b"/>
<rect x="698.16" y="85.35" width="2.97" height="2.97" fill="#a4337a"/>
<rect x="701.13" y="85.35" width="2.97" height="2.97" fill="#2a1257"/>
<rect x="704.10" y="85.35" width="2.97" height="2.97" fill="#a4337a"/>
<rect x="707.07" y="85.35" width="8.91" height="2.97" fill="#ee6b2b"/>
<rect x="715.99" y="85.35" width="2.97" height="2.97" fill="#a4337a"/>
<rect x="718.96" y="85.35" width="2.97" height="2.97" fill="#5c1f80"/>
<rect x="597.15" y="88.32" width="2.97" height="2.97" fill="#ee6b2b"/>
<rect x="620.92" y="88.32" width="2.97" height="2.97" fill="#d9474e"/>
<rect x="653.60" y="88.32" width="2.97" height="2.97" fill="#d2445c"/>
<rect x="656.57" y="88.32" width="14.85" height="2.97" fill="#ee6b2b"/>
<rect x="671.42" y="88.32" width="2.97" height="2.97" fill="#a4337a"/>
<rect x="674.40" y="88.32" width="5.94" height="2.97" fill="#5c1f80"/>
<rect x="683.31" y="88.32" width="5.94" height="2.97" fill="#2a1257"/>
<rect x="689.25" y="88.32" width="2.97" height="2.97" fill="#5c1f80"/>
<rect x="692.22" y="88.32" width="2.97" height="2.97" fill="#2a1257"/>
<rect x="695.19" y="88.32" width="2.97" height="2.97" fill="#ee6b2b"/>
<rect x="698.16" y="88.32" width="2.97" height="2.97" fill="#a4337a"/>
<rect x="701.13" y="88.32" width="2.97" height="2.97" fill="#2a1257"/>
<rect x="704.10" y="88.32" width="2.97" height="2.97" fill="#a4337a"/>
<rect x="707.07" y="88.32" width="8.91" height="2.97" fill="#ee6b2b"/>
<rect x="715.99" y="88.32" width="2.97" height="2.97" fill="#a4337a"/>
<rect x="718.96" y="88.32" width="2.97" height="2.97" fill="#5c1f80"/>
<rect x="582.30" y="91.29" width="5.94" height="2.97" fill="#d9474e"/>
<rect x="588.24" y="91.29" width="2.97" height="2.97" fill="#ee6b2b"/>
<rect x="591.21" y="91.29" width="2.97" height="2.97" fill="#d9474e"/>
<rect x="594.18" y="91.29" width="5.94" height="2.97" fill="#ee6b2b"/>
<rect x="600.12" y="91.29" width="2.97" height="2.97" fill="#d9474e"/>
<rect x="603.10" y="91.29" width="2.97" height="2.97" fill="#f9921a"/>
<rect x="606.07" y="91.29" width="2.97" height="2.97" fill="#ee6b2b"/>
<rect x="614.98" y="91.29" width="5.94" height="2.97" fill="#bf3a68"/>
<rect x="653.60" y="91.29" width="2.97" height="2.97" fill="#d2445c"/>
<rect x="656.57" y="91.29" width="5.94" height="2.97" fill="#ee6b2b"/>
<rect x="662.51" y="91.29" width="2.97" height="2.97" fill="#f9921a"/>
<rect x="665.48" y="91.29" width="5.94" height="2.97" fill="#ee6b2b"/>
<rect x="671.42" y="91.29" width="2.97" height="2.97" fill="#a4337a"/>
<rect x="674.40" y="91.29" width="14.85" height="2.97" fill="#5c1f80"/>
<rect x="689.25" y="91.29" width="2.97" height="2.97" fill="#2a1257"/>
<rect x="692.22" y="91.29" width="2.97" height="2.97" fill="#5c1f80"/>
<rect x="695.19" y="91.29" width="2.97" height="2.97" fill="#d2445c"/>
<rect x="698.16" y="91.29" width="2.97" height="2.97" fill="#a4337a"/>
<rect x="701.13" y="91.29" width="2.97" height="2.97" fill="#2a1257"/>
<rect x="704.10" y="91.29" width="2.97" height="2.97" fill="#5c1f80"/>
<rect x="707.07" y="91.29" width="8.91" height="2.97" fill="#ee6b2b"/>
<rect x="715.99" y="91.29" width="2.97" height="2.97" fill="#a4337a"/>
<rect x="718.96" y="91.29" width="5.94" height="2.97" fill="#5c1f80"/>
<rect x="597.15" y="94.26" width="2.97" height="2.97" fill="#d9474e"/>
<rect x="653.60" y="94.26" width="2.97" height="2.97" fill="#d2445c"/>
<rect x="656.57" y="94.26" width="5.94" height="2.97" fill="#ee6b2b"/>
<rect x="662.51" y="94.26" width="2.97" height="2.97" fill="#f9921a"/>
<rect x="665.48" y="94.26" width="2.97" height="2.97" fill="#ee6b2b"/>
<rect x="668.45" y="94.26" width="2.97" height="2.97" fill="#d2445c"/>
<rect x="671.42" y="94.26" width="5.94" height="2.97" fill="#a4337a"/>
<rect x="677.37" y="94.26" width="2.97" height="2.97" fill="#5c1f80"/>
<rect x="680.34" y="94.26" width="8.91" height="2.97" fill="#2a1257"/>
<rect x="689.25" y="94.26" width="2.97" height="2.97" fill="#5c1f80"/>
<rect x="695.19" y="94.26" width="2.97" height="2.97" fill="#d2445c"/>
<rect x="698.16" y="94.26" width="5.94" height="2.97" fill="#5c1f80"/>
<rect x="704.10" y="94.26" width="2.97" height="2.97" fill="#2a1257"/>
<rect x="707.07" y="94.26" width="8.91" height="2.97" fill="#d2445c"/>
<rect x="715.99" y="94.26" width="8.91" height="2.97" fill="#5c1f80"/>
<rect x="582.30" y="97.23" width="2.97" height="2.97" fill="#bf3a68"/>
<rect x="585.27" y="97.23" width="2.97" height="2.97" fill="#d9474e"/>
<rect x="588.24" y="97.23" width="2.97" height="2.97" fill="#ee6b2b"/>
<rect x="594.18" y="97.23" width="2.97" height="2.97" fill="#d9474e"/>
<rect x="597.15" y="97.23" width="2.97" height="2.97" fill="#ee6b2b"/>
<rect x="600.12" y="97.23" width="2.97" height="2.97" fill="#bf3a68"/>
<rect x="603.10" y="97.23" width="5.94" height="2.97" fill="#ee6b2b"/>
<rect x="614.98" y="97.23" width="2.97" height="2.97" fill="#bf3a68"/>
<rect x="653.60" y="97.23" width="2.97" height="2.97" fill="#d2445c"/>
<rect x="656.57" y="97.23" width="5.94" height="2.97" fill="#ee6b2b"/>
<rect x="662.51" y="97.23" width="2.97" height="2.97" fill="#f9921a"/>
<rect x="665.48" y="97.23" width="2.97" height="2.97" fill="#ee6b2b"/>
<rect x="668.45" y="97.23" width="2.97" height="2.97" fill="#d2445c"/>
<rect x="671.42" y="97.23" width="2.97" height="2.97" fill="#a4337a"/>
<rect x="674.40" y="97.23" width="5.94" height="2.97" fill="#5c1f80"/>
<rect x="680.34" y="97.23" width="8.91" height="2.97" fill="#2a1257"/>
<rect x="689.25" y="97.23" width="2.97" height="2.97" fill="#5c1f80"/>
<rect x="692.22" y="97.23" width="2.97" height="2.97" fill="#2a1257"/>
<rect x="695.19" y="97.23" width="2.97" height="2.97" fill="#d2445c"/>
<rect x="698.16" y="97.23" width="2.97" height="2.97" fill="#a4337a"/>
<rect x="701.13" y="97.23" width="2.97" height="2.97" fill="#2a1257"/>
<rect x="704.10" y="97.23" width="2.97" height="2.97" fill="#5c1f80"/>
<rect x="707.07" y="97.23" width="8.91" height="2.97" fill="#d2445c"/>
<rect x="715.99" y="97.23" width="2.97" height="2.97" fill="#a4337a"/>
<rect x="718.96" y="97.23" width="2.97" height="2.97" fill="#5c1f80"/>
<rect x="721.93" y="97.23" width="2.97" height="2.97" fill="#2a1257"/>
<rect x="582.30" y="100.20" width="5.94" height="2.97" fill="#a4337a"/>
<rect x="588.24" y="100.20" width="2.97" height="2.97" fill="#fcc631"/>
<rect x="591.21" y="100.20" width="5.94" height="2.97" fill="#f9921a"/>
<rect x="597.15" y="100.20" width="2.97" height="2.97" fill="#a4337a"/>
<rect x="600.12" y="100.20" width="2.97" height="2.97" fill="#f7f08e"/>
<rect x="603.10" y="100.20" width="2.97" height="2.97" fill="#fcc631"/>
<rect x="606.07" y="100.20" width="2.97" height="2.97" fill="#a4337a"/>
<rect x="609.04" y="100.20" width="8.91" height="2.97" fill="#fcc631"/>
<rect x="617.95" y="100.20" width="5.94" height="2.97" fill="#f9921a"/>
<rect x="623.89" y="100.20" width="2.97" height="2.97" fill="#fcc631"/>
<rect x="626.86" y="100.20" width="2.97" height="2.97" fill="#f9921a"/>
<rect x="629.83" y="100.20" width="2.97" height="2.97" fill="#d2445c"/>
<rect x="632.80" y="100.20" width="5.94" height="2.97" fill="#a4337a"/>
<rect x="638.75" y="100.20" width="14.85" height="2.97" fill="#d2445c"/>
<rect x="674.40" y="100.20" width="2.97" height="2.97" fill="#7d2482"/>
<rect x="701.13" y="100.20" width="2.97" height="2.97" fill="#bf3a68"/>
<rect x="721.93" y="100.20" width="2.97" height="2.97" fill="#d9474e"/>
<rect x="582.30" y="103.17" width="5.94" height="2.97" fill="#5c1f80"/>
<rect x="588.24" y="103.17" width="2.97" height="2.97" fill="#fcc631"/>
<rect x="591.21" y="103.17" width="5.94" height="2.97" fill="#ee6b2b"/>
<rect x="597.15" y="103.17" width="2.97" height="2.97" fill="#5c1f80"/>
<rect x="600.12" y="103.17" width="2.97" height="2.97" fill="#f7f08e"/>
<rect x="603.10" y="103.17" width="2.97" height="2.97" fill="#fcc631"/>
<rect x="606.07" y="103.17" width="2.97" height="2.97" fill="#5c1f80"/>
<rect x="609.04" y="103.17" width="8.91" height="2.97" fill="#fcc631"/>
<rect x="617.95" y="103.17" width="2.97" height="2.97" fill="#ee6b2b"/>
<rect x="620.92" y="103.17" width="2.97" height="2.97" fill="#f9921a"/>
<rect x="623.89" y="103.17" width="2.97" height="2.97" fill="#fcc631"/>
<rect x="626.86" y="103.17" width="2.97" height="2.97" fill="#f9921a"/>
<rect x="629.83" y="103.17" width="8.91" height="2.97" fill="#d2445c"/>
<rect x="638.75" y="103.17" width="14.85" height="2.97" fill="#ee6b2b"/>
<rect x="674.40" y="103.17" width="2.97" height="2.97" fill="#7d2482"/>
<rect x="692.22" y="103.17" width="2.97" height="2.97" fill="#7d2482"/>
<rect x="701.13" y="103.17" width="2.97" height="2.97" fill="#bf3a68"/>
<rect x="721.93" y="103.17" width="2.97" height="2.97" fill="#d9474e"/>
<rect x="582.30" y="106.14" width="2.97" height="2.97" fill="#2a1257"/>
<rect x="585.27" y="106.14" width="2.97" height="2.97" fill="#5c1f80"/>
<rect x="588.24" y="106.14" width="2.97" height="2.97" fill="#f9921a"/>
<rect x="591.21" y="106.14" width="5.94" height="2.97" fill="#d2445c"/>
<rect x="597.15" y="106.14" width="2.97" height="2.97" fill="#2a1257"/>
<rect x="600.12" y="106.14" width="2.97" height="2.97" fill="#fcc631"/>
<rect x="603.10" y="106.14" width="2.97" height="2.97" fill="#f9921a"/>
<rect x="606.07" y="106.14" width="2.97" height="2.97" fill="#5c1f80"/>
<rect x="609.04" y="106.14" width="8.91" height="2.97" fill="#f9921a"/>
<rect x="617.95" y="106.14" width="5.94" height="2.97" fill="#ee6b2b"/>
<rect x="623.89" y="106.14" width="2.97" height="2.97" fill="#fcc631"/>
<rect x="626.86" y="106.14" width="5.94" height="2.97" fill="#ee6b2b"/>
<rect x="632.80" y="106.14" width="5.94" height="2.97" fill="#d2445c"/>
<rect x="638.75" y="106.14" width="14.85" height="2.97" fill="#ee6b2b"/>
<rect x="674.40" y="106.14" width="2.97" height="2.97" fill="#bf3a68"/>
<rect x="680.34" y="106.14" width="2.97" height="2.97" fill="#7d2482"/>
<rect x="683.31" y="106.14" width="2.97" height="2.97" fill="#bf3a68"/>
<rect x="692.22" y="106.14" width="2.97" height="2.97" fill="#bf3a68"/>
<rect x="704.10" y="106.14" width="2.97" height="2.97" fill="#7d2482"/>
<rect x="721.93" y="106.14" width="2.97" height="2.97" fill="#ee6b2b"/>
<rect x="588.24" y="109.11" width="2.97" height="2.97" fill="#ee6b2b"/>
<rect x="591.21" y="109.11" width="5.94" height="2.97" fill="#a4337a"/>
<rect x="600.12" y="109.11" width="2.97" height="2.97" fill="#fcc631"/>
<rect x="603.10" y="109.11" width="2.97" height="2.97" fill="#f9921a"/>
<rect x="606.07" y="109.11" width="2.97" height="2.97" fill="#2a1257"/>
<rect x="609.04" y="109.11" width="8.91" height="2.97" fill="#f9921a"/>
<rect x="617.95" y="109.11" width="2.97" height="2.97" fill="#d2445c"/>
<rect x="620.92" y="109.11" width="2.97" height="2.97" fill="#ee6b2b"/>
<rect x="623.89" y="109.11" width="2.97" height="2.97" fill="#f9921a"/>
<rect x="626.86" y="109.11" width="2.97" height="2.97" fill="#ee6b2b"/>
<rect x="629.83" y="109.11" width="8.91" height="2.97" fill="#d2445c"/>
<rect x="638.75" y="109.11" width="5.94" height="2.97" fill="#ee6b2b"/>
<rect x="644.69" y="109.11" width="8.91" height="2.97" fill="#f9921a"/>
<rect x="692.22" y="109.11" width="2.97" height="2.97" fill="#7d2482"/>
<rect x="701.13" y="109.11" width="2.97" height="2.97" fill="#bf3a68"/>
<rect x="721.93" y="109.11" width="2.97" height="2.97" fill="#ee6b2b"/>
<rect x="582.30" y="112.08" width="2.97" height="2.97" fill="#5c1f80"/>
<rect x="585.27" y="112.08" width="2.97" height="2.97" fill="#2a1257"/>
<rect x="588.24" y="112.08" width="2.97" height="2.97" fill="#f9921a"/>
<rect x="591.21" y="112.08" width="5.94" height="2.97" fill="#d2445c"/>
<rect x="597.15" y="112.08" width="2.97" height="2.97" fill="#5c1f80"/>
<rect x="600.12" y="112.08" width="2.97" height="2.97" fill="#fcc631"/>
<rect x="603.10" y="112.08" width="2.97" height="2.97" fill="#f9921a"/>
<rect x="606.07" y="112.08" width="2.97" height="2.97" fill="#5c1f80"/>
<rect x="609.04" y="112.08" width="2.97" height="2.97" fill="#f9921a"/>
<rect x="612.01" y="112.08" width="5.94" height="2.97" fill="#fcc631"/>
<rect x="617.95" y="112.08" width="2.97" height="2.97" fill="#ee6b2b"/>
<rect x="620.92" y="112.08" width="2.97" height="2.97" fill="#f9921a"/>
<rect x="623.89" y="112.08" width="2.97" height="2.97" fill="#fcc631"/>
<rect x="626.86" y="112.08" width="2.97" height="2.97" fill="#f9921a"/>
<rect x="629.83" y="112.08" width="2.97" height="2.97" fill="#ee6b2b"/>
<rect x="632.80" y="112.08" width="2.97" height="2.97" fill="#d2445c"/>
<rect x="635.77" y="112.08" width="17.82" height="2.97" fill="#ee6b2b"/>
<rect x="686.28" y="112.08" width="2.97" height="2.97" fill="#7d2482"/>
<rect x="689.25" y="112.08" width="2.97" height="2.97" fill="#bf3a68"/>
<rect x="698.16" y="112.08" width="2.97" height="2.97" fill="#bf3a68"/>
<rect x="701.13" y="112.08" width="2.97" height="2.97" fill="#ee6b2b"/>
<rect x="721.93" y="112.08" width="2.97" height="2.97" fill="#ee6b2b"/>
<rect x="582.30" y="115.05" width="5.94" height="2.97" fill="#5c1f80"/>
<rect x="588.24" y="115.05" width="2.97" height="2.97" fill="#f9921a"/>
<rect x="591.21" y="115.05" width="5.94" height="2.97" fill="#ee6b2b"/>
<rect x="597.15" y="115.05" width="2.97" height="2.97" fill="#5c1f80"/>
<rect x="600.12" y="115.05" width="5.94" height="2.97" fill="#fcc631"/>
<rect x="606.07" y="115.05" width="2.97" height="2.97" fill="#5c1f80"/>
<rect x="609.04" y="115.05" width="8.91" height="2.97" fill="#fcc631"/>
<rect x="617.95" y="115.05" width="2.97" height="2.97" fill="#ee6b2b"/>
<rect x="620.92" y="115.05" width="2.97" height="2.97" fill="#f9921a"/>
<rect x="623.89" y="115.05" width="2.97" height="2.97" fill="#fcc631"/>
<rect x="626.86" y="115.05" width="2.97" height="2.97" fill="#f9921a"/>
<rect x="629.83" y="115.05" width="2.97" height="2.97" fill="#ee6b2b"/>
<rect x="632.80" y="115.05" width="5.94" height="2.97" fill="#d2445c"/>
<rect x="638.75" y="115.05" width="8.91" height="2.97" fill="#ee6b2b"/>
<rect x="647.66" y="115.05" width="5.94" height="2.97" fill="#d2445c"/>
<rect x="686.28" y="115.05" width="5.94" height="2.97" fill="#d9474e"/>
<rect x="695.19" y="115.05" width="2.97" height="2.97" fill="#bf3a68"/>
<rect x="698.16" y="115.05" width="2.97" height="2.97" fill="#d9474e"/>
<rect x="701.13" y="115.05" width="2.97" height="2.97" fill="#f9921a"/>
<rect x="707.07" y="115.05" width="8.91" height="2.97" fill="#bf3a68"/>
<rect x="721.93" y="115.05" width="2.97" height="2.97" fill="#d9474e"/>
<rect x="588.24" y="118.03" width="5.94" height="2.97" fill="#2a1257"/>
<rect x="597.15" y="118.03" width="2.97" height="2.97" fill="#2a1257"/>
<rect x="600.12" y="118.03" width="2.97" height="2.97" fill="#d2445c"/>
<rect x="603.10" y="118.03" width="2.97" height="2.97" fill="#a4337a"/>
<rect x="606.07" y="118.03" width="2.97" height="2.97" fill="#2a1257"/>
<rect x="609.04" y="118.03" width="2.97" height="2.97" fill="#a4337a"/>
<rect x="612.01" y="118.03" width="2.97" height="2.97" fill="#d2445c"/>
<rect x="614.98" y="118.03" width="8.91" height="2.97" fill="#a4337a"/>
<rect x="623.89" y="118.03" width="2.97" height="2.97" fill="#d2445c"/>
<rect x="626.86" y="118.03" width="26.74" height="2.97" fill="#a4337a"/>
<rect x="674.40" y="118.03" width="2.97" height="2.97" fill="#7d2482"/>
<rect x="683.31" y="118.03" width="2.97" height="2.97" fill="#bf3a68"/>
<rect x="692.22" y="118.03" width="2.97" height="2.97" fill="#7d2482"/>
<rect x="721.93" y="118.03" width="2.97" height="2.97" fill="#d9474e"/>
<rect x="582.30" y="121.00" width="5.94" height="2.97" fill="#5c1f80"/>
<rect x="591.21" y="121.00" width="2.97" height="2.97" fill="#2a1257"/>
<rect x="594.18" y="121.00" width="11.88" height="2.97" fill="#5c1f80"/>
<rect x="606.07" y="121.00" width="2.97" height="2.97" fill="#2a1257"/>
<rect x="609.04" y="121.00" width="8.91" height="2.97" fill="#5c1f80"/>
<rect x="617.95" y="121.00" width="2.97" height="2.97" fill="#2a1257"/>
<rect x="620.92" y="121.00" width="2.97" height="2.97" fill="#5c1f80"/>
<rect x="623.89" y="121.00" width="2.97" height="2.97" fill="#a4337a"/>
<rect x="626.86" y="121.00" width="2.97" height="2.97" fill="#5c1f80"/>
<rect x="629.83" y="121.00" width="2.97" height="2.97" fill="#2a1257"/>
<rect x="632.80" y="121.00" width="14.85" height="2.97" fill="#5c1f80"/>
<rect x="647.66" y="121.00" width="2.97" height="2.97" fill="#a4337a"/>
<rect x="650.63" y="121.00" width="2.97" height="2.97" fill="#5c1f80"/>
<rect x="653.60" y="121.00" width="5.94" height="2.97" fill="#7d2482"/>
<rect x="659.54" y="121.00" width="2.97" height="2.97" fill="#bf3a68"/>
<rect x="671.42" y="121.00" width="2.97" height="2.97" fill="#7d2482"/>
<rect x="721.93" y="121.00" width="2.97" height="2.97" fill="#d9474e"/>
<rect x="588.24" y="123.97" width="5.94" height="2.97" fill="#2a1257"/>
<rect x="597.15" y="123.97" width="2.97" height="2.97" fill="#2a1257"/>
<rect x="600.12" y="123.97" width="5.94" height="2.97" fill="#a4337a"/>
<rect x="606.07" y="123.97" width="2.97" height="2.97" fill="#2a1257"/>
<rect x="609.04" y="123.97" width="14.85" height="2.97" fill="#a4337a"/>
<rect x="623.89" y="123.97" width="2.97" height="2.97" fill="#d2445c"/>
<rect x="626.86" y="123.97" width="2.97" height="2.97" fill="#a4337a"/>
<rect x="629.83" y="123.97" width="23.77" height="2.97" fill="#5c1f80"/>
<rect x="701.13" y="123.97" width="2.97" height="2.97" fill="#7d2482"/>
<rect x="721.93" y="123.97" width="2.97" height="2.97" fill="#d9474e"/>
<rect x="582.30" y="126.94" width="2.97" height="2.97" fill="#5c1f80"/>
<rect x="585.27" y="126.94" width="8.91" height="2.97" fill="#2a1257"/>
<rect x="594.18" y="126.94" width="2.97" height="2.97" fill="#5c1f80"/>
<rect x="597.15" y="126.94" width="2.97" height="2.97" fill="#a4337a"/>
<rect x="603.10" y="126.94" width="2.97" height="2.97" fill="#2a1257"/>
<rect x="606.07" y="126.94" width="2.97" height="2.97" fill="#5c1f80"/>
<rect x="617.95" y="126.94" width="2.97" height="2.97" fill="#2a1257"/>
<rect x="623.89" y="126.94" width="5.94" height="2.97" fill="#2a1257"/>
<rect x="644.69" y="126.94" width="2.97" height="2.97" fill="#5c1f80"/>
<rect x="647.66" y="126.94" width="5.94" height="2.97" fill="#2a1257"/>
<rect x="659.54" y="126.94" width="2.97" height="2.97" fill="#bf3a68"/>
<rect x="582.30" y="129.91" width="5.94" height="2.97" fill="#5c1f80"/>
<rect x="588.24" y="129.91" width="5.94" height="2.97" fill="#2a1257"/>
<rect x="594.18" y="129.91" width="5.94" height="2.97" fill="#5c1f80"/>
<rect x="603.10" y="129.91" width="2.97" height="2.97" fill="#2a1257"/>
<rect x="606.07" y="129.91" width="2.97" height="2.97" fill="#5c1f80"/>
<rect x="609.04" y="129.91" width="2.97" height="2.97" fill="#2a1257"/>
<rect x="617.95" y="129.91" width="2.97" height="2.97" fill="#2a1257"/>
<rect x="623.89" y="129.91" width="20.80" height="2.97" fill="#2a1257"/>
<rect x="644.69" y="129.91" width="2.97" height="2.97" fill="#5c1f80"/>
<rect x="647.66" y="129.91" width="5.94" height="2.97" fill="#2a1257"/>
<rect x="659.54" y="129.91" width="2.97" height="2.97" fill="#7d2482"/>
<rect x="671.42" y="129.91" width="2.97" height="2.97" fill="#bf3a68"/>
<rect x="582.30" y="132.88" width="2.97" height="2.97" fill="#5c1f80"/>
<rect x="585.27" y="132.88" width="8.91" height="2.97" fill="#2a1257"/>
<rect x="594.18" y="132.88" width="5.94" height="2.97" fill="#5c1f80"/>
<rect x="603.10" y="132.88" width="2.97" height="2.97" fill="#2a1257"/>
<rect x="606.07" y="132.88" width="2.97" height="2.97" fill="#5c1f80"/>
<rect x="609.04" y="132.88" width="5.94" height="2.97" fill="#2a1257"/>
<rect x="617.95" y="132.88" width="2.97" height="2.97" fill="#2a1257"/>
<rect x="623.89" y="132.88" width="20.80" height="2.97" fill="#2a1257"/>
<rect x="644.69" y="132.88" width="2.97" height="2.97" fill="#5c1f80"/>
<rect x="647.66" y="132.88" width="5.94" height="2.97" fill="#2a1257"/>
<rect x="665.48" y="132.88" width="2.97" height="2.97" fill="#7d2482"/>
<rect x="668.45" y="132.88" width="2.97" height="2.97" fill="#d9474e"/>
<rect x="689.25" y="132.88" width="2.97" height="2.97" fill="#7d2482"/>
<rect x="704.10" y="132.88" width="2.97" height="2.97" fill="#f9921a"/>
<rect x="707.07" y="132.88" width="8.91" height="2.97" fill="#7d2482"/>
<rect x="715.99" y="132.88" width="2.97" height="2.97" fill="#d9474e"/>
<rect x="582.30" y="135.85" width="5.94" height="2.97" fill="#2a1257"/>
<rect x="588.24" y="135.85" width="2.97" height="2.97" fill="#5c1f80"/>
<rect x="591.21" y="135.85" width="5.94" height="2.97" fill="#2a1257"/>
<rect x="600.12" y="135.85" width="5.94" height="2.97" fill="#2a1257"/>
<rect x="620.92" y="135.85" width="2.97" height="2.97" fill="#5c1f80"/>
<rect x="623.89" y="135.85" width="2.97" height="2.97" fill="#2a1257"/>
<rect x="626.86" y="135.85" width="17.82" height="2.97" fill="#5c1f80"/>
<rect x="644.69" y="135.85" width="2.97" height="2.97" fill="#2a1257"/>
<rect x="647.66" y="135.85" width="5.94" height="2.97" fill="#5c1f80"/>
<rect x="665.48" y="135.85" width="2.97" height="2.97" fill="#bf3a68"/>
<rect x="668.45" y="135.85" width="2.97" height="2.97" fill="#d9474e"/>
<rect x="686.28" y="135.85" width="2.97" height="2.97" fill="#7d2482"/>
<rect x="692.22" y="135.85" width="2.97" height="2.97" fill="#bf3a68"/>
<rect x="695.19" y="135.85" width="2.97" height="2.97" fill="#f9921a"/>
<rect x="698.16" y="135.85" width="2.97" height="2.97" fill="#d9474e"/>
<rect x="704.10" y="135.85" width="2.97" height="2.97" fill="#f7f08e"/>
<rect x="707.07" y="135.85" width="8.91" height="2.97" fill="#f9921a"/>
<rect x="715.99" y="135.85" width="2.97" height="2.97" fill="#f7f08e"/>
<rect x="718.96" y="135.85" width="2.97" height="2.97" fill="#ee6b2b"/>
<rect x="721.93" y="135.85" width="2.97" height="2.97" fill="#d9474e"/>
<rect x="582.30" y="138.82" width="8.91" height="2.97" fill="#a4337a"/>
<rect x="591.21" y="138.82" width="2.97" height="2.97" fill="#5c1f80"/>
<rect x="594.18" y="138.82" width="2.97" height="2.97" fill="#a4337a"/>
<rect x="597.15" y="138.82" width="2.97" height="2.97" fill="#d2445c"/>
<rect x="600.12" y="138.82" width="5.94" height="2.97" fill="#5c1f80"/>
<rect x="606.07" y="138.82" width="2.97" height="2.97" fill="#a4337a"/>
<rect x="609.04" y="138.82" width="8.91" height="2.97" fill="#2a1257"/>
<rect x="617.95" y="138.82" width="2.97" height="2.97" fill="#5c1f80"/>
<rect x="620.92" y="138.82" width="2.97" height="2.97" fill="#2a1257"/>
<rect x="626.86" y="138.82" width="17.82" height="2.97" fill="#2a1257"/>
<rect x="644.69" y="138.82" width="2.97" height="2.97" fill="#5c1f80"/>
<rect x="650.63" y="138.82" width="2.97" height="2.97" fill="#2a1257"/>
<rect x="656.57" y="138.82" width="2.97" height="2.97" fill="#7d2482"/>
<rect x="659.54" y="138.82" width="2.97" height="2.97" fill="#bf3a68"/>
<rect x="662.51" y="138.82" width="2.97" height="2.97" fill="#7d2482"/>
<rect x="671.42" y="138.82" width="2.97" height="2.97" fill="#7d2482"/>
<rect x="689.25" y="138.82" width="2.97" height="2.97" fill="#bf3a68"/>
<rect x="698.16" y="138.82" width="2.97" height="2.97" fill="#7d2482"/>
<rect x="582.30" y="141.79" width="5.94" height="2.97" fill="#5c1f80"/>
<rect x="588.24" y="141.79" width="2.97" height="2.97" fill="#ee6b2b"/>
<rect x="591.21" y="141.79" width="2.97" height="2.97" fill="#d2445c"/>
<rect x="594.18" y="141.79" width="5.94" height="2.97" fill="#a4337a"/>
<rect x="600.12" y="141.79" width="2.97" height="2.97" fill="#f9921a"/>
<rect x="603.10" y="141.79" width="2.97" height="2.97" fill="#ee6b2b"/>
<rect x="606.07" y="141.79" width="2.97" height="2.97" fill="#5c1f80"/>
<rect x="609.04" y="141.79" width="8.91" height="2.97" fill="#f9921a"/>
<rect x="617.95" y="141.79" width="2.97" height="2.97" fill="#ee6b2b"/>
<rect x="620.92" y="141.79" width="2.97" height="2.97" fill="#f9921a"/>
<rect x="623.89" y="141.79" width="5.94" height="2.97" fill="#ee6b2b"/>
<rect x="629.83" y="141.79" width="2.97" height="2.97" fill="#d2445c"/>
<rect x="632.80" y="141.79" width="11.88" height="2.97" fill="#ee6b2b"/>
<rect x="644.69" y="141.79" width="8.91" height="2.97" fill="#d2445c"/>
<rect x="668.45" y="141.79" width="2.97" height="2.97" fill="#bf3a68"/>
<rect x="689.25" y="141.79" width="2.97" height="2.97" fill="#f9921a"/>
<rect x="701.13" y="141.79" width="2.97" height="2.97" fill="#d9474e"/>
<rect x="704.10" y="141.79" width="2.97" height="2.97" fill="#f9921a"/>
<rect x="715.99" y="141.79" width="2.97" height="2.97" fill="#d9474e"/>
<rect x="721.93" y="141.79" width="2.97" height="2.97" fill="#d9474e"/>
<rect x="582.30" y="144.76" width="5.94" height="2.97" fill="#2a1257"/>
<rect x="588.24" y="144.76" width="2.97" height="2.97" fill="#a4337a"/>
<rect x="591.21" y="144.76" width="5.94" height="2.97" fill="#5c1f80"/>
<rect x="597.15" y="144.76" width="2.97" height="2.97" fill="#2a1257"/>
<rect x="600.12" y="144.76" width="5.94" height="2.97" fill="#a4337a"/>
<rect x="606.07" y="144.76" width="2.97" height="2.97" fill="#5c1f80"/>
<rect x="609.04" y="144.76" width="11.88" height="2.97" fill="#a4337a"/>
<rect x="620.92" y="144.76" width="2.97" height="2.97" fill="#d2445c"/>
<rect x="623.89" y="144.76" width="23.77" height="2.97" fill="#a4337a"/>
<rect x="647.66" y="144.76" width="2.97" height="2.97" fill="#5c1f80"/>
<rect x="650.63" y="144.76" width="2.97" height="2.97" fill="#a4337a"/>
<rect x="665.48" y="144.76" width="2.97" height="2.97" fill="#bf3a68"/>
<rect x="668.45" y="144.76" width="2.97" height="2.97" fill="#d9474e"/>
<rect x="689.25" y="144.76" width="2.97" height="2.97" fill="#d9474e"/>
<rect x="692.22" y="144.76" width="2.97" height="2.97" fill="#7d2482"/>
<rect x="704.10" y="144.76" width="2.97" height="2.97" fill="#f9921a"/>
<rect x="707.07" y="144.76" width="2.97" height="2.97" fill="#7d2482"/>
<rect x="715.99" y="144.76" width="2.97" height="2.97" fill="#ee6b2b"/>
<rect x="582.30" y="147.73" width="17.82" height="2.97" fill="#2a1257"/>
<rect x="606.07" y="147.73" width="5.94" height="2.97" fill="#2a1257"/>
<rect x="617.95" y="147.73" width="2.97" height="2.97" fill="#2a1257"/>
<rect x="620.92" y="147.73" width="2.97" height="2.97" fill="#5c1f80"/>
<rect x="626.86" y="147.73" width="20.80" height="2.97" fill="#2a1257"/>
<rect x="647.66" y="147.73" width="2.97" height="2.97" fill="#5c1f80"/>
<rect x="650.63" y="147.73" width="2.97" height="2.97" fill="#2a1257"/>
<rect x="653.60" y="147.73" width="2.97" height="2.97" fill="#bf3a68"/>
<rect x="656.57" y="147.73" width="2.97" height="2.97" fill="#d9474e"/>
<rect x="662.51" y="147.73" width="2.97" height="2.97" fill="#bf3a68"/>
<rect x="665.48" y="147.73" width="2.97" height="2.97" fill="#ee6b2b"/>
<rect x="668.45" y="147.73" width="2.97" height="2.97" fill="#f9921a"/>
<rect x="677.37" y="147.73" width="2.97" height="2.97" fill="#7d2482"/>
<rect x="695.19" y="147.73" width="2.97" height="2.97" fill="#d9474e"/>
<rect x="704.10" y="147.73" width="2.97" height="2.97" fill="#fcc631"/>
<rect x="707.07" y="147.73" width="8.91" height="2.97" fill="#f9921a"/>
<rect x="715.99" y="147.73" width="2.97" height="2.97" fill="#f7f08e"/>
<rect x="718.96" y="147.73" width="5.94" height="2.97" fill="#ee6b2b"/>
<rect x="582.30" y="150.70" width="5.94" height="2.97" fill="#5c1f80"/>
<rect x="588.24" y="150.70" width="2.97" height="2.97" fill="#ee6b2b"/>
<rect x="591.21" y="150.70" width="5.94" height="2.97" fill="#a4337a"/>
<rect x="597.15" y="150.70" width="2.97" height="2.97" fill="#5c1f80"/>
<rect x="600.12" y="150.70" width="2.97" height="2.97" fill="#ee6b2b"/>
<rect x="603.10" y="150.70" width="2.97" height="2.97" fill="#d2445c"/>
<rect x="606.07" y="150.70" width="2.97" height="2.97" fill="#5c1f80"/>
<rect x="609.04" y="150.70" width="8.91" height="2.97" fill="#ee6b2b"/>
<rect x="617.95" y="150.70" width="8.91" height="2.97" fill="#d2445c"/>
<rect x="626.86" y="150.70" width="17.82" height="2.97" fill="#a4337a"/>
<rect x="644.69" y="150.70" width="2.97" height="2.97" fill="#5c1f80"/>
<rect x="647.66" y="150.70" width="2.97" height="2.97" fill="#2a1257"/>
<rect x="650.63" y="150.70" width="2.97" height="2.97" fill="#5c1f80"/>
<rect x="659.54" y="150.70" width="2.97" height="2.97" fill="#7d2482"/>
<rect x="686.28" y="150.70" width="2.97" height="2.97" fill="#f9921a"/>
<rect x="689.25" y="150.70" width="2.97" height="2.97" fill="#f7f08e"/>
<rect x="695.19" y="150.70" width="5.94" height="2.97" fill="#f9921a"/>
<rect x="701.13" y="150.70" width="2.97" height="2.97" fill="#fcc631"/>
<rect x="707.07" y="150.70" width="8.91" height="2.97" fill="#d9474e"/>
<rect x="718.96" y="150.70" width="2.97" height="2.97" fill="#7d2482"/>
<rect x="582.30" y="153.67" width="5.94" height="2.97" fill="#5c1f80"/>
<rect x="588.24" y="153.67" width="2.97" height="2.97" fill="#ee6b2b"/>
<rect x="591.21" y="153.67" width="5.94" height="2.97" fill="#a4337a"/>
<rect x="597.15" y="153.67" width="2.97" height="2.97" fill="#5c1f80"/>
<rect x="600.12" y="153.67" width="2.97" height="2.97" fill="#f9921a"/>
<rect x="603.10" y="153.67" width="2.97" height="2.97" fill="#ee6b2b"/>
<rect x="606.07" y="153.67" width="2.97" height="2.97" fill="#5c1f80"/>
<rect x="609.04" y="153.67" width="8.91" height="2.97" fill="#f9921a"/>
<rect x="617.95" y="153.67" width="2.97" height="2.97" fill="#ee6b2b"/>
<rect x="620.92" y="153.67" width="2.97" height="2.97" fill="#f9921a"/>
<rect x="623.89" y="153.67" width="5.94" height="2.97" fill="#ee6b2b"/>
<rect x="629.83" y="153.67" width="2.97" height="2.97" fill="#d2445c"/>
<rect x="632.80" y="153.67" width="14.85" height="2.97" fill="#ee6b2b"/>
<rect x="647.66" y="153.67" width="5.94" height="2.97" fill="#d2445c"/>
<rect x="668.45" y="153.67" width="2.97" height="2.97" fill="#bf3a68"/>
<rect x="686.28" y="153.67" width="2.97" height="2.97" fill="#7d2482"/>
<rect x="689.25" y="153.67" width="2.97" height="2.97" fill="#f9921a"/>
<rect x="698.16" y="153.67" width="2.97" height="2.97" fill="#7d2482"/>
<rect x="701.13" y="153.67" width="2.97" height="2.97" fill="#f9921a"/>
<rect x="704.10" y="153.67" width="2.97" height="2.97" fill="#d9474e"/>
<rect x="715.99" y="153.67" width="2.97" height="2.97" fill="#d9474e"/>
<rect x="721.93" y="153.67" width="2.97" height="2.97" fill="#f9921a"/>
<rect x="582.30" y="156.65" width="5.94" height="2.97" fill="#5c1f80"/>
<rect x="588.24" y="156.65" width="2.97" height="2.97" fill="#ee6b2b"/>
<rect x="591.21" y="156.65" width="5.94" height="2.97" fill="#a4337a"/>
<rect x="597.15" y="156.65" width="2.97" height="2.97" fill="#5c1f80"/>
<rect x="600.12" y="156.65" width="2.97" height="2.97" fill="#f9921a"/>
<rect x="603.10" y="156.65" width="2.97" height="2.97" fill="#ee6b2b"/>
<rect x="606.07" y="156.65" width="2.97" height="2.97" fill="#5c1f80"/>
<rect x="609.04" y="156.65" width="8.91" height="2.97" fill="#f9921a"/>
<rect x="617.95" y="156.65" width="2.97" height="2.97" fill="#ee6b2b"/>
<rect x="620.92" y="156.65" width="2.97" height="2.97" fill="#f9921a"/>
<rect x="623.89" y="156.65" width="5.94" height="2.97" fill="#ee6b2b"/>
<rect x="629.83" y="156.65" width="2.97" height="2.97" fill="#d2445c"/>
<rect x="632.80" y="156.65" width="14.85" height="2.97" fill="#ee6b2b"/>
<rect x="647.66" y="156.65" width="5.94" height="2.97" fill="#d2445c"/>
<rect x="668.45" y="156.65" width="2.97" height="2.97" fill="#bf3a68"/>
<rect x="686.28" y="156.65" width="2.97" height="2.97" fill="#7d2482"/>
<rect x="689.25" y="156.65" width="2.97" height="2.97" fill="#f9921a"/>
<rect x="701.13" y="156.65" width="2.97" height="2.97" fill="#f9921a"/>
<rect x="704.10" y="156.65" width="2.97" height="2.97" fill="#d9474e"/>
<rect x="715.99" y="156.65" width="2.97" height="2.97" fill="#d9474e"/>
<rect x="721.93" y="156.65" width="2.97" height="2.97" fill="#f9921a"/>
<rect x="582.30" y="159.62" width="5.94" height="2.97" fill="#5c1f80"/>
<rect x="588.24" y="159.62" width="2.97" height="2.97" fill="#ee6b2b"/>
<rect x="591.21" y="159.62" width="5.94" height="2.97" fill="#a4337a"/>
<rect x="597.15" y="159.62" width="2.97" height="2.97" fill="#5c1f80"/>
<rect x="600.12" y="159.62" width="2.97" height="2.97" fill="#f9921a"/>
<rect x="603.10" y="159.62" width="2.97" height="2.97" fill="#ee6b2b"/>
<rect x="606.07" y="159.62" width="2.97" height="2.97" fill="#5c1f80"/>
<rect x="609.04" y="159.62" width="8.91" height="2.97" fill="#f9921a"/>
<rect x="617.95" y="159.62" width="2.97" height="2.97" fill="#ee6b2b"/>
<rect x="620.92" y="159.62" width="2.97" height="2.97" fill="#f9921a"/>
<rect x="623.89" y="159.62" width="5.94" height="2.97" fill="#ee6b2b"/>
<rect x="629.83" y="159.62" width="2.97" height="2.97" fill="#d2445c"/>
<rect x="632.80" y="159.62" width="14.85" height="2.97" fill="#ee6b2b"/>
<rect x="647.66" y="159.62" width="5.94" height="2.97" fill="#d2445c"/>
<rect x="668.45" y="159.62" width="2.97" height="2.97" fill="#bf3a68"/>
<rect x="686.28" y="159.62" width="2.97" height="2.97" fill="#7d2482"/>
<rect x="689.25" y="159.62" width="2.97" height="2.97" fill="#f9921a"/>
<rect x="701.13" y="159.62" width="2.97" height="2.97" fill="#f9921a"/>
<rect x="704.10" y="159.62" width="2.97" height="2.97" fill="#d9474e"/>
<rect x="715.99" y="159.62" width="2.97" height="2.97" fill="#d9474e"/>
<rect x="721.93" y="159.62" width="2.97" height="2.97" fill="#f9921a"/>
<rect x="582.30" y="162.59" width="5.94" height="2.97" fill="#a4337a"/>
<rect x="588.24" y="162.59" width="2.97" height="2.97" fill="#fcc631"/>
<rect x="591.21" y="162.59" width="2.97" height="2.97" fill="#ee6b2b"/>
<rect x="594.18" y="162.59" width="2.97" height="2.97" fill="#d2445c"/>
<rect x="597.15" y="162.59" width="2.97" height="2.97" fill="#a4337a"/>
<rect x="600.12" y="162.59" width="2.97" height="2.97" fill="#fcc631"/>
<rect x="603.10" y="162.59" width="2.97" height="2.97" fill="#f9921a"/>
<rect x="606.07" y="162.59" width="2.97" height="2.97" fill="#d2445c"/>
<rect x="609.04" y="162.59" width="5.94" height="2.97" fill="#fcc631"/>
<rect x="614.98" y="162.59" width="2.97" height="2.97" fill="#f9921a"/>
<rect x="617.95" y="162.59" width="11.88" height="2.97" fill="#ee6b2b"/>
<rect x="629.83" y="162.59" width="2.97" height="2.97" fill="#d2445c"/>
<rect x="632.80" y="162.59" width="14.85" height="2.97" fill="#a4337a"/>
<rect x="647.66" y="162.59" width="2.97" height="2.97" fill="#5c1f80"/>
<rect x="650.63" y="162.59" width="2.97" height="2.97" fill="#a4337a"/>
<rect x="686.28" y="162.59" width="2.97" height="2.97" fill="#d9474e"/>
<rect x="689.25" y="162.59" width="2.97" height="2.97" fill="#f7f08e"/>
<rect x="695.19" y="162.59" width="2.97" height="2.97" fill="#d9474e"/>
<rect x="698.16" y="162.59" width="2.97" height="2.97" fill="#ee6b2b"/>
<rect x="701.13" y="162.59" width="2.97" height="2.97" fill="#f7f08e"/>
<rect x="707.07" y="162.59" width="8.91" height="2.97" fill="#d9474e"/>
<rect x="718.96" y="162.59" width="2.97" height="2.97" fill="#7d2482"/>
<rect x="582.30" y="165.56" width="5.94" height="2.97" fill="#2a1257"/>
<rect x="588.24" y="165.56" width="2.97" height="2.97" fill="#ee6b2b"/>
<rect x="591.21" y="165.56" width="2.97" height="2.97" fill="#a4337a"/>
<rect x="594.18" y="165.56" width="5.94" height="2.97" fill="#5c1f80"/>
<rect x="600.12" y="165.56" width="2.97" height="2.97" fill="#f9921a"/>
<rect x="603.10" y="165.56" width="2.97" height="2.97" fill="#ee6b2b"/>
<rect x="606.07" y="165.56" width="2.97" height="2.97" fill="#5c1f80"/>
<rect x="609.04" y="165.56" width="2.97" height="2.97" fill="#ee6b2b"/>
<rect x="612.01" y="165.56" width="2.97" height="2.97" fill="#f9921a"/>
<rect x="614.98" y="165.56" width="2.97" height="2.97" fill="#ee6b2b"/>
<rect x="617.95" y="165.56" width="11.88" height="2.97" fill="#d2445c"/>
<rect x="629.83" y="165.56" width="2.97" height="2.97" fill="#a4337a"/>
<rect x="632.80" y="165.56" width="20.80" height="2.97" fill="#5c1f80"/>
<rect x="689.25" y="165.56" width="2.97" height="2.97" fill="#ee6b2b"/>
<rect x="701.13" y="165.56" width="2.97" height="2.97" fill="#ee6b2b"/>
<rect x="704.10" y="165.56" width="2.97" height="2.97" fill="#7d2482"/>
<rect x="715.99" y="165.56" width="2.97" height="2.97" fill="#7d2482"/>
<rect x="721.93" y="165.56" width="2.97" height="2.97" fill="#d9474e"/>
<rect x="582.30" y="168.53" width="5.94" height="2.97" fill="#ee6b2b"/>
<rect x="588.24" y="168.53" width="2.97" height="2.97" fill="#f9921a"/>
<rect x="591.21" y="168.53" width="8.91" height="2.97" fill="#ee6b2b"/>
<rect x="600.12" y="168.53" width="5.94" height="2.97" fill="#f9921a"/>
<rect x="606.07" y="168.53" width="2.97" height="2.97" fill="#ee6b2b"/>
<rect x="609.04" y="168.53" width="2.97" height="2.97" fill="#5c1f80"/>
<rect x="612.01" y="168.53" width="5.94" height="2.97" fill="#ee6b2b"/>
<rect x="617.95" y="168.53" width="2.97" height="2.97" fill="#f9921a"/>
<rect x="623.89" y="168.53" width="2.97" height="2.97" fill="#2a1257"/>
<rect x="626.86" y="168.53" width="5.94" height="2.97" fill="#5c1f80"/>
<rect x="644.69" y="168.53" width="5.94" height="2.97" fill="#5c1f80"/>
<rect x="650.63" y="168.53" width="2.97" height="2.97" fill="#2a1257"/>
<rect x="653.60" y="168.53" width="5.94" height="2.97" fill="#bf3a68"/>
<rect x="659.54" y="168.53" width="2.97" height="2.97" fill="#d9474e"/>
<rect x="662.51" y="168.53" width="2.97" height="2.97" fill="#ee6b2b"/>
<rect x="665.48" y="168.53" width="8.91" height="2.97" fill="#d9474e"/>
<rect x="674.40" y="168.53" width="5.94" height="2.97" fill="#bf3a68"/>
<rect x="689.25" y="168.53" width="2.97" height="2.97" fill="#d9474e"/>
<rect x="695.19" y="168.53" width="2.97" height="2.97" fill="#bf3a68"/>
<rect x="701.13" y="168.53" width="2.97" height="2.97" fill="#ee6b2b"/>
<rect x="707.07" y="168.53" width="8.91" height="2.97" fill="#f9921a"/>
<rect x="718.96" y="168.53" width="2.97" height="2.97" fill="#d9474e"/>
</g></g>
<text x="610.5" y="189.0" class="sans" font-size="13.9" text-anchor="middle" fill="#484848">10</text>
<text x="579.0" y="62.7" class="sans" font-size="13.9" text-anchor="end" fill="#484848">10</text>
<text x="640.2" y="189.0" class="sans" font-size="13.9" text-anchor="middle" fill="#484848">20</text>
<text x="579.0" y="92.4" class="sans" font-size="13.9" text-anchor="end" fill="#484848">20</text>
<text x="669.9" y="189.0" class="sans" font-size="13.9" text-anchor="middle" fill="#484848">30</text>
<text x="579.0" y="122.1" class="sans" font-size="13.9" text-anchor="end" fill="#484848">30</text>
<text x="699.6" y="189.0" class="sans" font-size="13.9" text-anchor="middle" fill="#484848">40</text>
<text x="579.0" y="151.8" class="sans" font-size="13.9" text-anchor="end" fill="#484848">40</text>
<text transform="translate(400.3,213.9) scale(1.09,0.93)" class="ser" font-style="italic" font-size="33" text-anchor="middle" fill="#1c1c1c">α</text>
<g stroke="#e9e9e9" stroke-width="0.8">
<line x1="90.5" y1="228.5" x2="90.5" y2="374.5"/>
<line x1="180.9" y1="228.5" x2="180.9" y2="374.5"/>
<line x1="271.4" y1="228.5" x2="271.4" y2="374.5"/>
<line x1="361.9" y1="228.5" x2="361.9" y2="374.5"/>
<line x1="452.3" y1="228.5" x2="452.3" y2="374.5"/>
<line x1="542.8" y1="228.5" x2="542.8" y2="374.5"/>
<line x1="633.2" y1="228.5" x2="633.2" y2="374.5"/>
<line x1="50.5" y1="345.2" x2="749.5" y2="345.2"/>
<line x1="50.5" y1="316.0" x2="749.5" y2="316.0"/>
<line x1="50.5" y1="286.8" x2="749.5" y2="286.8"/>
<line x1="50.5" y1="257.6" x2="749.5" y2="257.6"/>
</g>
<rect x="50.5" y="228.5" width="699.0" height="146.0" fill="none" stroke="#c2c2c2" stroke-width="1"/>
<g stroke="#c2c2c2" stroke-width="0.9">
<line x1="90.5" y1="374.5" x2="90.5" y2="367.5"/><line x1="90.5" y1="228.5" x2="90.5" y2="235.5"/>
<line x1="180.9" y1="374.5" x2="180.9" y2="367.5"/><line x1="180.9" y1="228.5" x2="180.9" y2="235.5"/>
<line x1="271.4" y1="374.5" x2="271.4" y2="367.5"/><line x1="271.4" y1="228.5" x2="271.4" y2="235.5"/>
<line x1="361.9" y1="374.5" x2="361.9" y2="367.5"/><line x1="361.9" y1="228.5" x2="361.9" y2="235.5"/>
<line x1="452.3" y1="374.5" x2="452.3" y2="367.5"/><line x1="452.3" y1="228.5" x2="452.3" y2="235.5"/>
<line x1="542.8" y1="374.5" x2="542.8" y2="367.5"/><line x1="542.8" y1="228.5" x2="542.8" y2="235.5"/>
<line x1="633.2" y1="374.5" x2="633.2" y2="367.5"/><line x1="633.2" y1="228.5" x2="633.2" y2="235.5"/>
<line x1="50.5" y1="374.4" x2="57.5" y2="374.4"/><line x1="749.5" y1="374.4" x2="742.5" y2="374.4"/>
<line x1="50.5" y1="345.2" x2="57.5" y2="345.2"/><line x1="749.5" y1="345.2" x2="742.5" y2="345.2"/>
<line x1="50.5" y1="316.0" x2="57.5" y2="316.0"/><line x1="749.5" y1="316.0" x2="742.5" y2="316.0"/>
<line x1="50.5" y1="286.8" x2="57.5" y2="286.8"/><line x1="749.5" y1="286.8" x2="742.5" y2="286.8"/>
<line x1="50.5" y1="257.6" x2="57.5" y2="257.6"/><line x1="749.5" y1="257.6" x2="742.5" y2="257.6"/>
<line x1="50.5" y1="228.4" x2="57.5" y2="228.4"/><line x1="749.5" y1="228.4" x2="742.5" y2="228.4"/>
</g>
<text x="90.5" y="390.7" class="sans" font-size="13.7" text-anchor="middle" fill="#484848">0</text>
<text x="180.9" y="390.7" class="sans" font-size="13.7" text-anchor="middle" fill="#484848">15</text>
<text x="271.4" y="390.7" class="sans" font-size="13.7" text-anchor="middle" fill="#484848">30</text>
<text x="361.9" y="390.7" class="sans" font-size="13.7" text-anchor="middle" fill="#484848">45</text>
<text x="452.3" y="390.7" class="sans" font-size="13.7" text-anchor="middle" fill="#484848">60</text>
<text x="542.8" y="390.7" class="sans" font-size="13.7" text-anchor="middle" fill="#484848">75</text>
<text x="633.2" y="390.7" class="sans" font-size="13.7" text-anchor="middle" fill="#484848">90</text>
<text x="47.4" y="379.4" class="sans" font-size="13.7" text-anchor="end" fill="#484848">0</text>
<text x="47.4" y="350.2" class="sans" font-size="13.7" text-anchor="end" fill="#484848">0.2</text>
<text x="47.4" y="321.0" class="sans" font-size="13.7" text-anchor="end" fill="#484848">0.4</text>
<text x="47.4" y="291.8" class="sans" font-size="13.7" text-anchor="end" fill="#484848">0.6</text>
<text x="47.4" y="262.6" class="sans" font-size="13.7" text-anchor="end" fill="#484848">0.8</text>
<text x="47.4" y="233.4" class="sans" font-size="13.7" text-anchor="end" fill="#484848">1</text>
<text x="400.5" y="414.1" class="ser" font-size="24.5" text-anchor="middle" letter-spacing="0.8" fill="#505050">Inter-links %</text>
<g transform="translate(18.8,323.7) rotate(-90)" fill="#2a2a2a"><text class="ser" font-size="30" transform="translate(-1.35,1.6) scale(0.85,1)">⟨</text><text class="ser" font-style="italic" font-size="25.5" x="9.3" y="0">C</text><text class="ser" font-style="italic" font-size="18" x="24.2" y="4.5">L</text><text class="ser" font-size="30" transform="translate(35.6,1.6) scale(0.85,1)">⟩</text></g>
<polyline points="91.5,239.6 92.6,245.3 93.6,249.6 94.7,255.3 95.7,259.3 96.8,262.1 97.8,264.3 98.9,266.3 99.9,268.0 101.0,269.6 102.0,271.1 103.1,272.4 104.1,273.6 105.2,274.6 106.2,275.6 107.2,276.4 108.3,277.2 109.3,278.0 110.4,278.6 111.4,279.2 112.5,279.7 113.5,280.2 114.6,280.6 115.6,281.0 116.7,281.4 117.7,281.7 118.8,282.1 119.8,282.4 120.9,282.7 121.9,283.0 123.0,283.3 124.0,283.6 125.0,283.9 126.1,284.1 127.1,284.4 128.2,284.6 129.2,284.8 130.3,285.0 131.3,285.2 132.4,285.4 133.4,285.5 134.5,285.7 135.5,285.9 136.6,286.0 137.6,286.2 138.7,286.3 139.7,286.5 140.7,286.6 141.8,286.8 142.8,286.9 143.9,287.0 144.9,287.2 146.0,287.3 147.0,287.4 148.1,287.6 149.1,287.7 150.2,287.8 151.2,287.9 152.3,288.0 153.3,288.1 154.4,288.2 155.4,288.3 156.4,288.4 157.5,288.5 158.5,288.6 159.6,288.7 160.6,288.7 161.7,288.8 162.7,288.9 163.8,289.0 164.8,289.1 165.9,289.1 166.9,289.2 168.0,289.3 169.0,289.4 170.1,289.4 171.1,289.5 172.2,289.6 173.2,289.6 174.2,289.7 175.3,289.8 176.3,289.9 177.4,289.9 178.4,290.0 179.5,290.1 180.5,290.1 181.6,290.2 182.6,290.3 183.7,290.3 184.7,290.4 185.8,290.4 186.8,290.5 187.9,290.5 188.9,290.6 189.9,290.7 191.0,290.7 192.0,290.8 193.1,290.8 194.1,290.9 195.2,290.9 196.2,291.0 197.3,291.0 198.3,291.1 199.4,291.1 200.4,291.2 201.5,291.2 202.5,291.3 203.6,291.3 204.6,291.3 205.6,291.4 206.7,291.4 207.7,291.5 208.8,291.5 209.8,291.6 210.9,291.6 211.9,291.6 213.0,291.7 214.0,291.7 215.1,291.8 216.1,291.8 217.2,291.8 218.2,291.9 219.3,291.9 220.3,292.0 221.4,292.0 222.4,292.0 223.4,292.1 224.5,292.1 225.5,292.1 226.6,292.2 227.6,292.2 228.7,292.2 229.7,292.3 230.8,292.3 231.8,292.3 232.9,292.4 233.9,292.4 235.0,292.4 236.0,292.5 237.1,292.5 238.1,292.5 239.1,292.6 240.2,292.6 241.2,292.6 242.3,292.7 243.3,292.7 244.4,292.7 245.4,292.8 246.5,292.8 247.5,292.8 248.6,292.8 249.6,292.9 250.7,292.9 251.7,292.9 252.8,292.9 253.8,293.0 254.8,293.0 255.9,293.0 256.9,293.1 258.0,293.1 259.0,293.1 260.1,293.1 261.1,293.2 262.2,293.2 263.2,293.2 264.3,293.2 265.3,293.2 266.4,293.3 267.4,293.3 268.5,293.3 269.5,293.3 270.6,293.4 271.6,293.4 272.6,293.4 273.7,293.4 274.7,293.5 275.8,293.5 276.8,293.5 277.9,293.5 278.9,293.5 280.0,293.6 281.0,293.6 282.1,293.6 283.1,293.6 284.2,293.6 285.2,293.7 286.3,293.7 287.3,293.7 288.3,293.7 289.4,293.7 290.4,293.8 291.5,293.8 292.5,293.8 293.6,293.8 294.6,293.8 295.7,293.9 296.7,293.9 297.8,293.9 298.8,293.9 299.9,293.9 300.9,294.0 302.0,294.0 303.0,294.0 304.0,294.0 305.1,294.0 306.1,294.1 307.2,294.1 308.2,294.1 309.3,294.1 310.3,294.1 311.4,294.1 312.4,294.2 313.5,294.2 314.5,294.2 315.6,294.2 316.6,294.2 317.7,294.2 318.7,294.3 319.8,294.3 320.8,294.3 321.8,294.3 322.9,294.3 323.9,294.3 325.0,294.3 326.0,294.4 327.1,294.4 328.1,294.4 329.2,294.4 330.2,294.4 331.3,294.4 332.3,294.5 333.4,294.5 334.4,294.5 335.5,294.5 336.5,294.5 337.5,294.5 338.6,294.5 339.6,294.5 340.7,294.6 341.7,294.6 342.8,294.6 343.8,294.6 344.9,294.6 345.9,294.6 347.0,294.6 348.0,294.7 349.1,294.7 350.1,294.7 351.2,294.7 352.2,294.7 353.2,294.7 354.3,294.7 355.3,294.7 356.4,294.7 357.4,294.8 358.5,294.8 359.5,294.8 360.6,294.8 361.6,294.8 362.7,294.8 363.7,294.8 364.8,294.8 365.8,294.8 366.9,294.9 367.9,294.9 369.0,294.9 370.0,294.9 371.0,294.9 372.1,294.9 373.1,294.9 374.2,294.9 375.2,294.9 376.3,294.9 377.3,295.0 378.4,295.0 379.4,295.0 380.5,295.0 381.5,295.0 382.6,295.0 383.6,295.0 384.7,295.0 385.7,295.0 386.7,295.0 387.8,295.0 388.8,295.0 389.9,295.1 390.9,295.1 392.0,295.1 393.0,295.1 394.1,295.1 395.1,295.1 396.2,295.1 397.2,295.1 398.3,295.1 399.3,295.1 400.4,295.1 401.4,295.1 402.4,295.1 403.5,295.2 404.5,295.2 405.6,295.2 406.6,295.2 407.7,295.2 408.7,295.2 409.8,295.2 410.8,295.2 411.9,295.2 412.9,295.2 414.0,295.2 415.0,295.2 416.1,295.2 417.1,295.2 418.2,295.3 419.2,295.3 420.2,295.3 421.3,295.3 422.3,295.3 423.4,295.3 424.4,295.3 425.5,295.3 426.5,295.3 427.6,295.3 428.6,295.3 429.7,295.3 430.7,295.3 431.8,295.3 432.8,295.3 433.9,295.3 434.9,295.4 435.9,295.4 437.0,295.4 438.0,295.4 439.1,295.4 440.1,295.4 441.2,295.4 442.2,295.4 443.3,295.4 444.3,295.4 445.4,295.4 446.4,295.4 447.5,295.4 448.5,295.4 449.6,295.4 450.6,295.4 451.6,295.4 452.7,295.4 453.7,295.5 454.8,295.5 455.8,295.5 456.9,295.5 457.9,295.5 459.0,295.5 460.0,295.5 461.1,295.5 462.1,295.5 463.2,295.5 464.2,295.5 465.3,295.5 466.3,295.5 467.4,295.5 468.4,295.5 469.4,295.5 470.5,295.5 471.5,295.5 472.6,295.5 473.6,295.5 474.7,295.6 475.7,295.6 476.8,295.6 477.8,295.6 478.9,295.6 479.9,295.6 481.0,295.6 482.0,295.6 483.1,295.6 484.1,295.6 485.1,295.6 486.2,295.6 487.2,295.6 488.3,295.6 489.3,295.6 490.4,295.6 491.4,295.6 492.5,295.6 493.5,295.6 494.6,295.6 495.6,295.6 496.7,295.6 497.7,295.6 498.8,295.7 499.8,295.7 500.8,295.7 501.9,295.7 502.9,295.7 504.0,295.7 505.0,295.7 506.1,295.7 507.1,295.7 508.2,295.7 509.2,295.7 510.3,295.7 511.3,295.7 512.4,295.7 513.4,295.7 514.5,295.7 515.5,295.7 516.6,295.7 517.6,295.7 518.6,295.7 519.7,295.7 520.7,295.7 521.8,295.7 522.8,295.7 523.9,295.7 524.9,295.8 526.0,295.8 527.0,295.8 528.1,295.8 529.1,295.8 530.2,295.8 531.2,295.8 532.3,295.8 533.3,295.8 534.3,295.8 535.4,295.8 536.4,295.8 537.5,295.8 538.5,295.8 539.6,295.8 540.6,295.8 541.7,295.8 542.7,295.8 543.8,295.8 544.8,295.8 545.9,295.8 546.9,295.8 548.0,295.8 549.0,295.8 550.0,295.8 551.1,295.8 552.1,295.8 553.2,295.8 554.2,295.9 555.3,295.9 556.3,295.9 557.4,295.9 558.4,295.9 559.5,295.9 560.5,295.9 561.6,295.9 562.6,295.9 563.7,295.9 564.7,295.9 565.8,295.9 566.8,295.9 567.8,295.9 568.9,295.9 569.9,295.9 571.0,295.9 572.0,295.9 573.1,295.9 574.1,295.9 575.2,295.9 576.2,295.9 577.3,295.9 578.3,295.9 579.4,295.9 580.4,295.9 581.5,295.9 582.5,295.9 583.5,295.9 584.6,295.9 585.6,295.9 586.7,295.9 587.7,296.0 588.8,296.0 589.8,296.0 590.9,296.0 591.9,296.0 593.0,296.0 594.0,296.0 595.1,296.0 596.1,296.0 597.2,296.0 598.2,296.0 599.2,296.0 600.3,296.0 601.3,296.0 602.4,296.0 603.4,296.0 604.5,296.0 605.5,296.0 606.6,296.0 607.6,296.0 608.7,296.0 609.7,296.0 610.8,296.0 611.8,296.0 612.9,296.0 613.9,296.0 615.0,296.0 616.0,296.0 617.0,296.0 618.1,296.0 619.1,296.0 620.2,296.0 621.2,296.0 622.3,296.0 623.3,296.0 624.4,296.0 625.4,296.0 626.5,296.1 627.5,296.1 628.6,296.1 629.6,296.1 630.7,296.1 631.7,296.1 632.7,296.1 633.8,296.1 634.8,296.1 635.9,296.1 636.9,296.1 638.0,296.1 639.0,296.1 640.1,296.1 641.1,296.1 642.2,296.1 643.2,296.1 644.3,296.1 645.3,296.1 646.4,296.1 647.4,296.1 648.4,296.1 649.5,296.1 650.5,296.1 651.6,296.1 652.6,296.1 653.7,296.1 654.7,296.1 655.8,296.1 656.8,296.1 657.9,296.1 658.9,296.1 660.0,296.1 661.0,296.1 662.1,296.1 663.1,296.1 664.2,296.1 665.2,296.1 666.2,296.1 667.3,296.1 668.3,296.1 669.4,296.1" fill="none" stroke="none" marker-start="url(#mL)" marker-mid="url(#mL)" marker-end="url(#mL)"/>
<polyline points="91.5,365.2 92.6,359.6 93.6,355.5 94.7,351.5 95.7,347.7 96.8,344.0 97.8,340.9 98.9,338.1 99.9,335.5 101.0,333.2 102.0,331.1 103.1,329.2 104.1,327.5 105.2,326.0 106.2,324.7 107.2,323.5 108.3,322.6 109.3,321.7 110.4,321.0 111.4,320.4 112.5,319.8 113.5,319.3 114.6,318.8 115.6,318.4 116.7,318.0 117.7,317.7 118.8,317.4 119.8,317.0 120.9,316.7 121.9,316.5 123.0,316.2 124.0,315.9 125.0,315.7 126.1,315.4 127.1,315.2 128.2,315.0 129.2,314.9 130.3,314.7 131.3,314.6 132.4,314.4 133.4,314.3 134.5,314.1 135.5,314.0 136.6,313.9 137.6,313.8 138.7,313.6 139.7,313.5 140.7,313.4 141.8,313.3 142.8,313.1 143.9,313.0 144.9,312.8 146.0,312.7 147.0,312.5 148.1,312.4 149.1,312.2 150.2,312.1 151.2,312.0 152.3,311.8 153.3,311.7 154.4,311.6 155.4,311.4 156.4,311.3 157.5,311.2 158.5,311.1 159.6,310.9 160.6,310.8 161.7,310.7 162.7,310.6 163.8,310.5 164.8,310.4 165.9,310.3 166.9,310.2 168.0,310.1 169.0,310.0 170.1,309.9 171.1,309.8 172.2,309.7 173.2,309.6 174.2,309.5 175.3,309.4 176.3,309.3 177.4,309.2 178.4,309.1 179.5,309.0 180.5,309.0 181.6,308.9 182.6,308.8 183.7,308.7 184.7,308.6 185.8,308.5 186.8,308.5 187.9,308.4 188.9,308.3 189.9,308.3 191.0,308.2 192.0,308.2 193.1,308.1 194.1,308.0 195.2,308.0 196.2,307.9 197.3,307.9 198.3,307.9 199.4,307.8 200.4,307.8 201.5,307.7 202.5,307.7 203.6,307.6 204.6,307.6 205.6,307.5 206.7,307.5 207.7,307.5 208.8,307.4 209.8,307.4 210.9,307.4 211.9,307.3 213.0,307.3 214.0,307.2 215.1,307.2 216.1,307.2 217.2,307.1 218.2,307.1 219.3,307.1 220.3,307.1 221.4,307.0 222.4,307.0 223.4,307.0 224.5,306.9 225.5,306.9 226.6,306.9 227.6,306.8 228.7,306.8 229.7,306.8 230.8,306.8 231.8,306.7 232.9,306.7 233.9,306.7 235.0,306.7 236.0,306.6 237.1,306.6 238.1,306.6 239.1,306.6 240.2,306.5 241.2,306.5 242.3,306.5 243.3,306.5 244.4,306.4 245.4,306.4 246.5,306.4 247.5,306.4 248.6,306.4 249.6,306.3 250.7,306.3 251.7,306.3 252.8,306.3 253.8,306.2 254.8,306.2 255.9,306.2 256.9,306.2 258.0,306.2 259.0,306.1 260.1,306.1 261.1,306.1 262.2,306.1 263.2,306.1 264.3,306.0 265.3,306.0 266.4,306.0 267.4,306.0 268.5,306.0 269.5,305.9 270.6,305.9 271.6,305.9 272.6,305.9 273.7,305.9 274.7,305.9 275.8,305.8 276.8,305.8 277.9,305.8 278.9,305.8 280.0,305.8 281.0,305.7 282.1,305.7 283.1,305.7 284.2,305.7 285.2,305.7 286.3,305.7 287.3,305.6 288.3,305.6 289.4,305.6 290.4,305.6 291.5,305.6 292.5,305.6 293.6,305.5 294.6,305.5 295.7,305.5 296.7,305.5 297.8,305.5 298.8,305.5 299.9,305.5 300.9,305.4 302.0,305.4 303.0,305.4 304.0,305.4 305.1,305.4 306.1,305.4 307.2,305.3 308.2,305.3 309.3,305.3 310.3,305.3 311.4,305.3 312.4,305.3 313.5,305.3 314.5,305.3 315.6,305.2 316.6,305.2 317.7,305.2 318.7,305.2 319.8,305.2 320.8,305.2 321.8,305.2 322.9,305.1 323.9,305.1 325.0,305.1 326.0,305.1 327.1,305.1 328.1,305.1 329.2,305.1 330.2,305.1 331.3,305.0 332.3,305.0 333.4,305.0 334.4,305.0 335.5,305.0 336.5,305.0 337.5,305.0 338.6,305.0 339.6,305.0 340.7,304.9 341.7,304.9 342.8,304.9 343.8,304.9 344.9,304.9 345.9,304.9 347.0,304.9 348.0,304.9 349.1,304.9 350.1,304.9 351.2,304.8 352.2,304.8 353.2,304.8 354.3,304.8 355.3,304.8 356.4,304.8 357.4,304.8 358.5,304.8 359.5,304.8 360.6,304.8 361.6,304.8 362.7,304.7 363.7,304.7 364.8,304.7 365.8,304.7 366.9,304.7 367.9,304.7 369.0,304.7 370.0,304.7 371.0,304.7 372.1,304.7 373.1,304.7 374.2,304.7 375.2,304.6 376.3,304.6 377.3,304.6 378.4,304.6 379.4,304.6 380.5,304.6 381.5,304.6 382.6,304.6 383.6,304.6 384.7,304.6 385.7,304.6 386.7,304.6 387.8,304.6 388.8,304.6 389.9,304.5 390.9,304.5 392.0,304.5 393.0,304.5 394.1,304.5 395.1,304.5 396.2,304.5 397.2,304.5 398.3,304.5 399.3,304.5 400.4,304.5 401.4,304.5 402.4,304.5 403.5,304.5 404.5,304.5 405.6,304.5 406.6,304.5 407.7,304.4 408.7,304.4 409.8,304.4 410.8,304.4 411.9,304.4 412.9,304.4 414.0,304.4 415.0,304.4 416.1,304.4 417.1,304.4 418.2,304.4 419.2,304.4 420.2,304.4 421.3,304.4 422.3,304.4 423.4,304.4 424.4,304.4 425.5,304.4 426.5,304.4 427.6,304.4 428.6,304.3 429.7,304.3 430.7,304.3 431.8,304.3 432.8,304.3 433.9,304.3 434.9,304.3 435.9,304.3 437.0,304.3 438.0,304.3 439.1,304.3 440.1,304.3 441.2,304.3 442.2,304.3 443.3,304.3 444.3,304.3 445.4,304.3 446.4,304.3 447.5,304.3 448.5,304.3 449.6,304.3 450.6,304.3 451.6,304.2 452.7,304.2 453.7,304.2 454.8,304.2 455.8,304.2 456.9,304.2 457.9,304.2 459.0,304.2 460.0,304.2 461.1,304.2 462.1,304.2 463.2,304.2 464.2,304.2 465.3,304.2 466.3,304.2 467.4,304.2 468.4,304.2 469.4,304.2 470.5,304.2 471.5,304.2 472.6,304.2 473.6,304.2 474.7,304.2 475.7,304.2 476.8,304.2 477.8,304.2 478.9,304.1 479.9,304.1 481.0,304.1 482.0,304.1 483.1,304.1 484.1,304.1 485.1,304.1 486.2,304.1 487.2,304.1 488.3,304.1 489.3,304.1 490.4,304.1 491.4,304.1 492.5,304.1 493.5,304.1 494.6,304.1 495.6,304.1 496.7,304.1 497.7,304.1 498.8,304.1 499.8,304.1 500.8,304.1 501.9,304.1 502.9,304.1 504.0,304.1 505.0,304.1 506.1,304.1 507.1,304.0 508.2,304.0 509.2,304.0 510.3,304.0 511.3,304.0 512.4,304.0 513.4,304.0 514.5,304.0 515.5,304.0 516.6,304.0 517.6,304.0 518.6,304.0 519.7,304.0 520.7,304.0 521.8,304.0 522.8,304.0 523.9,304.0 524.9,304.0 526.0,304.0 527.0,304.0 528.1,304.0 529.1,304.0 530.2,304.0 531.2,304.0 532.3,304.0 533.3,304.0 534.3,304.0 535.4,304.0 536.4,303.9 537.5,303.9 538.5,303.9 539.6,303.9 540.6,303.9 541.7,303.9 542.7,303.9 543.8,303.9 544.8,303.9 545.9,303.9 546.9,303.9 548.0,303.9 549.0,303.9 550.0,303.9 551.1,303.9 552.1,303.9 553.2,303.9 554.2,303.9 555.3,303.9 556.3,303.9 557.4,303.9 558.4,303.9 559.5,303.9 560.5,303.9 561.6,303.9 562.6,303.9 563.7,303.9 564.7,303.9 565.8,303.9 566.8,303.9 567.8,303.9 568.9,303.8 569.9,303.8 571.0,303.8 572.0,303.8 573.1,303.8 574.1,303.8 575.2,303.8 576.2,303.8 577.3,303.8 578.3,303.8 579.4,303.8 580.4,303.8 581.5,303.8 582.5,303.8 583.5,303.8 584.6,303.8 585.6,303.8 586.7,303.8 587.7,303.8 588.8,303.8 589.8,303.8 590.9,303.8 591.9,303.8 593.0,303.8 594.0,303.8 595.1,303.8 596.1,303.8 597.2,303.8 598.2,303.8 599.2,303.8 600.3,303.8 601.3,303.8 602.4,303.8 603.4,303.8 604.5,303.7 605.5,303.7 606.6,303.7 607.6,303.7 608.7,303.7 609.7,303.7 610.8,303.7 611.8,303.7 612.9,303.7 613.9,303.7 615.0,303.7 616.0,303.7 617.0,303.7 618.1,303.7 619.1,303.7 620.2,303.7 621.2,303.7 622.3,303.7 623.3,303.7 624.4,303.7 625.4,303.7 626.5,303.7 627.5,303.7 628.6,303.7 629.6,303.7 630.7,303.7 631.7,303.7 632.7,303.7 633.8,303.7 634.8,303.7 635.9,303.7 636.9,303.7 638.0,303.7 639.0,303.7 640.1,303.7 641.1,303.7 642.2,303.7 643.2,303.7 644.3,303.6 645.3,303.6 646.4,303.6 647.4,303.6 648.4,303.6 649.5,303.6 650.5,303.6 651.6,303.6 652.6,303.6 653.7,303.6 654.7,303.6 655.8,303.6 656.8,303.6 657.9,303.6 658.9,303.6 660.0,303.6 661.0,303.6 662.1,303.6 663.1,303.6 664.2,303.6 665.2,303.6 666.2,303.6 667.3,303.6 668.3,303.6 669.4,303.6" fill="none" stroke="none" marker-start="url(#mR)" marker-mid="url(#mR)" marker-end="url(#mR)"/>
<path d="M91.5 237.0 L94.4 241.9 L88.6 241.9 Z" fill="#0a8c8d" stroke="#123f3f" stroke-width="0.6"/>
<path d="M91.5 362.8 L94.4 367.7 L88.6 367.7 Z" fill="#8e1d13" stroke="#5c1710" stroke-width="0.6"/>
<g stroke="#383838" stroke-width="0.9" stroke-dasharray="1.3 1">
<line x1="93.6" y1="249.6" x2="93.6" y2="355.6"/>
<line x1="120.7" y1="282.6" x2="120.7" y2="316.8"/>
<line x1="669.4" y1="296.1" x2="669.4" y2="303.6"/>
</g>
<line x1="93.6" y1="301.5" x2="669.4" y2="301.5" stroke="#3c3c3c" stroke-width="1.3"/>
<circle cx="669.4" cy="301.5" r="3.6" fill="#d6d9dc" fill-opacity="0.8" stroke="#6c6c6c" stroke-width="0.9"/>
<circle cx="120.7" cy="301.5" r="3.6" fill="#a3bce0" fill-opacity="0.82" stroke="#5f6e84" stroke-width="0.9"/>
<circle cx="93.6" cy="301.5" r="3.6" fill="#5f7188" fill-opacity="0.85" stroke="#414c5a" stroke-width="0.9"/>
<g stroke="#85878d" stroke-width="1.15" fill="none">
<line x1="93.5" y1="301.4" x2="93.5" y2="196"/>
<line x1="669.4" y1="301.4" x2="669.4" y2="196"/>
<line x1="120.7" y1="301.4" x2="368" y2="193.5"/>
</g>
<path transform="translate(93.5,191.6) rotate(0)" d="M0 0 L5.3 10.2 L0 6.4 L-5.3 10.2 Z" fill="#9b9da2"/>
<path transform="translate(669.4,191.6) rotate(0)" d="M0 0 L5.3 10.2 L0 6.4 L-5.3 10.2 Z" fill="#9b9da2"/>
<path transform="translate(373,191.3) rotate(66.6)" d="M0 0 L5.3 10.2 L0 6.4 L-5.3 10.2 Z" fill="#9b9da2"/>
<rect x="690.4" y="249.4" width="56.3" height="103.2" fill="#fff" stroke="#cfcfcf" stroke-width="0.9"/>
<path d="M697.2 256.2 L700.5 261.9 L693.9 261.9 Z" fill="#0b8f90" stroke="#14403f" stroke-width="0.6"/>
<path d="M697.2 275.8 L700.5 281.5 L693.9 281.5 Z" fill="#8c1c12" stroke="#5a1610" stroke-width="0.6"/>
<g class="sans" font-size="11.9" fill="#1a1a1a">
<text x="703.7" y="262.9" font-size="14.2">⟨</text><text x="707.9" y="262.9">C<tspan font-size="8.8" dy="4.5">L</tspan></text><text x="722.2" y="262.9" font-size="14.2">⟩</text>
<text x="703.7" y="282.3" font-size="14.2">⟨</text><text x="707.9" y="282.3">C<tspan font-size="8.8" dy="4.5">R</tspan></text><text x="722.9" y="282.3" font-size="14.2">⟩</text>
<text x="703.8" y="301.4">C<tspan font-size="8.8" dy="4.5">L</tspan><tspan dy="-4.5" letter-spacing="0.25">=0.5</tspan></text>
<text x="703.6" y="320.6" font-size="11.6">Stage 1</text>
<text x="703.6" y="334.8" font-size="11.6">Stage 2</text>
<text x="703.6" y="349" font-size="11.6">Stage 3</text>
</g>
<line x1="692.3" y1="299.5" x2="702.3" y2="299.5" stroke="#2a2a2a" stroke-width="1.2"/>
<circle cx="697.1" cy="316.7" r="3.6" fill="#d6d9dc" stroke="#6c6c6c" stroke-width="0.8"/>
<circle cx="697.1" cy="331" r="3.6" fill="#a9c0e0" stroke="#66758a" stroke-width="0.8"/>
<circle cx="697.1" cy="345.1" r="3.6" fill="#6e7f93" stroke="#465160" stroke-width="0.8"/>
</svg>
</body></html>
